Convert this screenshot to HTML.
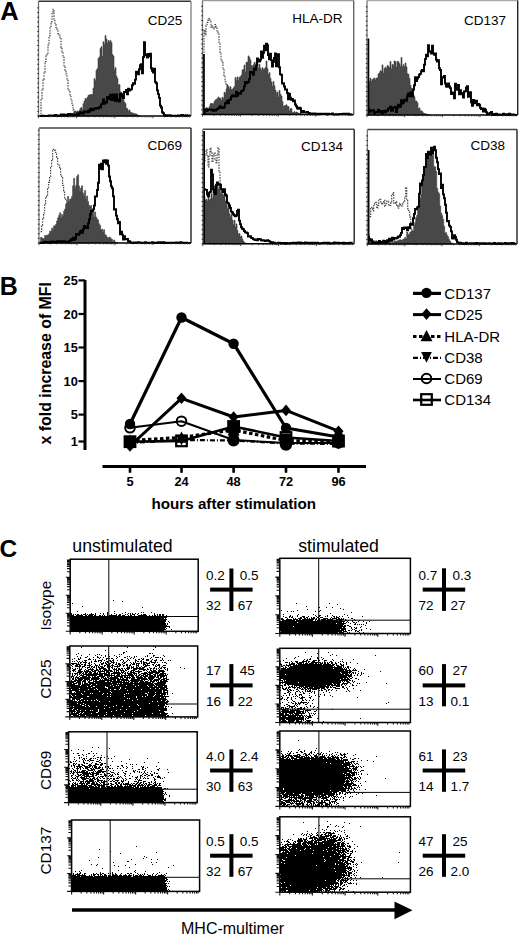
<!DOCTYPE html>
<html><head><meta charset="utf-8"><style>
html,body{margin:0;padding:0;background:#fff;}
body{width:520px;height:934px;overflow:hidden;}
svg{display:block;font-family:"Liberation Sans", sans-serif;}
</style></head><body>
<svg width="520" height="934" viewBox="0 0 520 934" shape-rendering="auto">
<path d="M66 116H67V115.6H68V115.4H69V114.2H70V113.3H71V113.6H72V113.6H73V113.7H74V111.4H75V110.9H76V112H77V111.1H78V111.5H79V110.3H80V108.3H81V107.4H82V109.5H83V103.7H84V101.1H85V98.6H86V99H87V97.3H88V95.3H89V94.9H90V94.6H91V94.5H92V94.4H93V88H94V78.6H95V80.6H96V70.2H97V68.5H98V58.3H99V57H100V48.6H101V46.8H102V56.3H103V41.8H104V44.5H105V35.5H106V39H107V43.1H108V40.6H109V41.9H110V40.4H111V42.6H112V54.5H113V56H114V70H115V67.6H116V76.1H117V78.4H118V84.7H119V84.6H120V91.8H121V92.5H122V98.4H123V100.1H124V102.1H125V103.5H126V108.2H127V108.8H128V111.2H129V110H130V112H131V112.7H132V112.9H133V113.3H134V113.8H135V113.8H136V114.1H137V114.9H138V115.6H139V116H140V116V116H66Z" fill="#484848" stroke="#3a3a3a" stroke-width="0.6"/>
<path d="M40 116H41V98.7H42V88.9H43V79.4H44V72.2H45V61.6H46V55.9H47V54.4H48V45.1H49V35.9H50V27.9H51V21.9H52V12H53V9.2H54V20.5H55V24H56V27.6H57V29.4H58V33.6H59V35H60V37.6H61V47.6H62V51.9H63V57.2H64V66.5H65V70.2H66V74H67V80.3H68V88.9H69V90.5H70V96.2H71V100.7H72V105.3H73V109.9H74V113.9H75V114.9H76V116" fill="none" stroke="#4a4a4a" stroke-width="1.15" stroke-dasharray="1.6 1.1"/>
<path d="M40 116H41V116H42V115.8H43V115.6H44V115.9H45V116H46V115.9H47V115.9H48V115.7H49V115.5H50V115.4H51V115.5H52V115.4H53V115.9H54V115.7H55V115H56V115.7H57V115.4H58V115.8H59V116H60V115.5H61V114.4H62V115.5H63V114.4H64V115.9H65V114.8H66V115H67V116H68V114H69V115H70V114.3H71V114.6H72V114.4H73V115.2H74V114.6H75V114.9H76V115.1H77V113.4H78V115.2H79V113.6H80V112.1H81V112.6H82V113.6H83V113.5H84V111.5H85V111.9H86V111.8H87V112.3H88V110.7H89V111.7H90V109H91V108.8H92V110.2H93V109.9H94V108.4H95V108.9H96V108H97V108.4H98V108.6H99V107.2H100V107.2H101V104.4H102V103.4H103V99.4H104V103.7H105V102.3H106V102.6H107V97H108V99.1H109V98.2H110V94.8H111V100H112V100H113V94.4H114V98.3H115V101.1H116V94.5H117V99.5H118V100.8H119V101.5H120V93.9H121V94.1H122V96.5H123V98.3H124V92H125V92.1H126V89.9H127V94.3H128V88.7H129V90.5H130V89.5H131V89.4H132V85.3H133V83.1H134V83.7H135V79.6H136V71.6H137V71.6H138V74.3H139V69.3H140V65.1H141V64.3H142V73.2H143V57.1H144V42.1H145V54.2H146V55.4H147V57.5H148V54H149V56.3H150V53.8H151V68.2H152V70.9H153V72.5H154V68.7H155V81.9H156V83.2H157V90.4H158V94.1H159V97.9H160V105.6H161V107.5H162V112.3H163V113.2H164V115H165V116H166V115.7H167V115.3H168V115.2H169V115.3H170V115.5H171V115.8H172V115.6H173V115.8H174V115.8H175V115.6H176V116H177V115.8H178V115.5H179V115.5H180V115.5H181V115.3H182V115H183V115.6H184V115.4H185V115.8H186V115.3H187V115.6H188V115.6H189V115.4H190V115.6" fill="none" stroke="#000" stroke-width="1.9" stroke-linejoin="miter"/>
<path d="M38.5 1.3H191" fill="none" stroke="#333" stroke-width="1.4"/>
<path d="M191 1.3V116" fill="none" stroke="#888" stroke-width="1.4"/>
<path d="M38.5 1.3V116" fill="none" stroke="#777" stroke-width="1.3"/>
<path d="M37.3 116h1.6M37.3 111.3h1.6M37.3 106.6h1.6M37.3 101.9h1.6M37.3 97.2h1.6M37.3 92.5h1.6M37.3 87.8h1.6M37.3 83.1h1.6M37.3 78.4h1.6M37.3 73.7h1.6M37.3 69h1.6M37.3 64.3h1.6M37.3 59.6h1.6M37.3 54.9h1.6M37.3 50.2h1.6M37.3 45.5h1.6M37.3 40.8h1.6M37.3 36.1h1.6M37.3 31.4h1.6M37.3 26.7h1.6M37.3 22h1.6M37.3 17.3h1.6M37.3 12.6h1.6M37.3 7.9h1.6" stroke="#222" stroke-width="1"/>
<path d="M38.5 116H191" stroke="#000" stroke-width="1.6"/>
<path d="M38.5 116v2.2M50 116v1.4M56.7 116v1.4M61.5 116v1.4M65.1 116v1.4M68.2 116v1.4M70.7 116v1.4M72.9 116v1.4M74.9 116v1.4M76.6 116v2.2M88.1 116v1.4M94.8 116v1.4M99.6 116v1.4M103.3 116v1.4M106.3 116v1.4M108.8 116v1.4M111.1 116v1.4M113 116v1.4M114.8 116v2.2M126.2 116v1.4M132.9 116v1.4M137.7 116v1.4M141.4 116v1.4M144.4 116v1.4M147 116v1.4M149.2 116v1.4M151.1 116v1.4M152.9 116v2.2M164.4 116v1.4M171.1 116v1.4M175.8 116v1.4M179.5 116v1.4M182.5 116v1.4M185.1 116v1.4M187.3 116v1.4M189.3 116v1.4" stroke="#333" stroke-width="0.9"/>
<text x="147.8" y="24.5" font-size="13.5" text-anchor="start" fill="#000">CD25</text>
<path d="M203 111.6H204V111.4H205V108.6H206V107.6H207V108.1H208V109H209V106.6H210V103.8H211V103.4H212V103.4H213V103.9H214V101.5H215V99.9H216V99.2H217V98.8H218V97H219V98.1H220V98.3H221V100.5H222V97.2H223V98.8H224V92.3H225V93.3H226V89.2H227V84.8H228V86.5H229V89H230V86.7H231V89.7H232V89.3H233V88H234V86.4H235V77.6H236V80.4H237V76.9H238V80.3H239V77.2H240V76.7H241V75.1H242V69.9H243V69.5H244V65.1H245V71.8H246V62.3H247V62H248V55.9H249V57.4H250V60.1H251V65.8H252V66.1H253V64.8H254V62.3H255V70.1H256V61.6H257V63.1H258V68.1H259V64.3H260V68.2H261V70.5H262V67.7H263V69.3H264V68.9H265V67.5H266V61H267V68.4H268V74.4H269V72.7H270V78.3H271V81.9H272V86.3H273V81.6H274V85.8H275V90.1H276V93.2H277V92H278V97.1H279V90.4H280V94.2H281V96H282V101.4H283V106.4H284V105.7H285V105.6H286V104.8H287V106.3H288V106.5H289V111.1H290V108.6H291V108.7H292V112.5H293V112.5H294V111.6H295V112.7H296V112H297V112.5H298V113.3H299V113.5H300V113.3H301V114.3H302V114.1H303V114.1H304V114.1H305V114.5V114.5H203Z" fill="#484848" stroke="#3a3a3a" stroke-width="0.6"/>
<path d="M203 114.1H204V29.9H205V34.8H206V25.7H207V22.3H208V20.1H209V18.4H210V21.5H211V27.3H212V25.7H213V28.9H214V27.3H215V24.5H216V27.7H217V31.9H218V32.8H219V43.5H220V53.5H221V60.6H222V62.6H223V68.6H224V75.7H225V81.7H226V85.1H227V93.7H228V95.7H229V101.7H230V104.8H231V107.8H232V110.5H233V114" fill="none" stroke="#4a4a4a" stroke-width="1.15" stroke-dasharray="1.6 1.1"/>
<path d="M204 113.1H205V109.8H206V111H207V110.3H208V109.5H209V109.6H210V109.5H211V109.8H212V110.2H213V110.7H214V109.6H215V110.5H216V109.6H217V109H218V108.4H219V107.2H220V106.2H221V107.9H222V107.6H223V108.1H224V106.9H225V103.2H226V102.7H227V100.7H228V103.2H229V99.9H230V99.5H231V96.7H232V95.2H233V95.8H234V96.1H235V96.6H236V91.8H237V95.7H238V92.9H239V93.5H240V93.7H241V91.2H242V91H243V89.9H244V86.3H245V82H246V83.4H247V82H248V82.2H249V79.2H250V72H251V72.9H252V72.3H253V74.7H254V68.8H255V69.9H256V65.4H257V58.5H258V61.3H259V61.5H260V59.7H261V51.5H262V57.7H263V52.9H264V45.7H265V50.4H266V43.6H267V45.1H268V55.1H269V59.2H270V53.6H271V60.1H272V66.5H273V61.7H274V57.9H275V53.5H276V66.2H277V55.7H278V54.3H279V67.3H280V74.4H281V74.8H282V83.6H283V83.3H284V86.5H285V89.5H286V89.4H287V93H288V99.4H289V93.8H290V97.7H291V99.8H292V99H293V101.3H294V100.4H295V104.5H296V106.3H297V108.4H298V108.8H299V107.8H300V108.2H301V112.3H302V112.2H303V111H304V112.3H305V112.1H306V112.5H307V112H308V112.9H309V113.1H310V113.4H311V114.1H312V113.9H313V113.5H314V113.4H315V113.8H316V114.4H317V114.3H318V113.8H319V114.4H320V114.1H321V113.8H322V114.1H323V114H324V113.6H325V113.8H326V114H327V114.5H328V113.6H329V114.1H330V114H331V114H332V113.5H333V114.4H334V114.5H335V114.5H336V114.2H337V114.5H338V114.2H339V114.3H340V113.9H341V114.1H342V113.9H343V113.6H344V113.8H345V113.6H346V113.6H347V113.8H348V113.8H349V114.5H350V114.5H351V114.4H352V114.3" fill="none" stroke="#000" stroke-width="1.9" stroke-linejoin="miter"/>
<path d="M203.8 54V114.5" stroke="#000" stroke-width="2"/>
<path d="M202.5 0.5H353.7" fill="none" stroke="#999" stroke-width="1.4"/>
<path d="M353.7 0.5V114.5" fill="none" stroke="#666" stroke-width="1.4"/>
<path d="M202.5 0.5V114.5" fill="none" stroke="#777" stroke-width="1.3"/>
<path d="M201.3 114.5h1.6M201.3 109.8h1.6M201.3 105.1h1.6M201.3 100.4h1.6M201.3 95.7h1.6M201.3 91h1.6M201.3 86.3h1.6M201.3 81.6h1.6M201.3 76.9h1.6M201.3 72.2h1.6M201.3 67.5h1.6M201.3 62.8h1.6M201.3 58.1h1.6M201.3 53.4h1.6M201.3 48.7h1.6M201.3 44h1.6M201.3 39.3h1.6M201.3 34.6h1.6M201.3 29.9h1.6M201.3 25.2h1.6M201.3 20.5h1.6M201.3 15.8h1.6M201.3 11.1h1.6M201.3 6.4h1.6" stroke="#222" stroke-width="1"/>
<path d="M202.5 114.5H353.7" stroke="#000" stroke-width="1.6"/>
<path d="M202.5 114.5v2.2M213.9 114.5v1.4M220.5 114.5v1.4M225.3 114.5v1.4M228.9 114.5v1.4M231.9 114.5v1.4M234.4 114.5v1.4M236.6 114.5v1.4M238.6 114.5v1.4M240.3 114.5v2.2M251.7 114.5v1.4M258.3 114.5v1.4M263.1 114.5v1.4M266.7 114.5v1.4M269.7 114.5v1.4M272.2 114.5v1.4M274.4 114.5v1.4M276.4 114.5v1.4M278.1 114.5v2.2M289.5 114.5v1.4M296.1 114.5v1.4M300.9 114.5v1.4M304.5 114.5v1.4M307.5 114.5v1.4M310 114.5v1.4M312.2 114.5v1.4M314.2 114.5v1.4M315.9 114.5v2.2M327.3 114.5v1.4M333.9 114.5v1.4M338.7 114.5v1.4M342.3 114.5v1.4M345.3 114.5v1.4M347.8 114.5v1.4M350 114.5v1.4M352 114.5v1.4" stroke="#333" stroke-width="0.9"/>
<text x="292.2" y="22.5" font-size="13.5" text-anchor="start" fill="#000">HLA-DR</text>
<path d="M368 82.9H369V81.3H370V78.2H371V81.3H372V79.4H373V78.9H374V77.9H375V80H376V78.1H377V77.9H378V74H379V72.8H380V70.7H381V71.5H382V64.9H383V73.1H384V68.6H385V67.2H386V68.6H387V65.4H388V66.4H389V67.2H390V61.4H391V68.7H392V64.5H393V65.2H394V60.9H395V61.6H396V66.9H397V61.5H398V61.7H399V63.7H400V66.2H401V57.5H402V67.1H403V64.7H404V66.8H405V63H406V66.8H407V73.8H408V74.3H409V78.4H410V85.3H411V88.1H412V93.2H413V95.1H414V96.7H415V100.9H416V101H417V102.9H418V108.8H419V107.9H420V111H421V110.8H422V111.7H423V113.1H424V113.5H425V113.7H426V114.1H427V114.3H428V114.8H429V115H430V115V115H368Z" fill="#484848" stroke="#3a3a3a" stroke-width="0.6"/>
<path d="M368 109H369V110.2H370V111.8H371V110.6H372V110.3H373V110.1H374V113H375V112.3H376V112.1H377V111.7H378V109.8H379V112.4H380V111H381V111.8H382V113.5H383V111H384V111.1H385V112.3H386V110.5H387V110.8H388V108.5H389V108.4H390V106.8H391V110.7H392V110.8H393V107.4H394V107.6H395V106.7H396V112H397V108H398V104.8H399V105.9H400V106.7H401V100.2H402V103.5H403V102.5H404V99.7H405V100.6H406V100.7H407V96H408V93.5H409V96.4H410V92.6H411V92.2H412V96.4H413V89.5H414V85.2H415V77.2H416V81.1H417V78.5H418V77.1H419V74.6H420V73.9H421V71.1H422V70H423V71.4H424V64.7H425V59H426V54.6H427V56.2H428V45.1H429V51.1H430V51.7H431V53.5H432V45.8H433V53.4H434V54.7H435V53.4H436V59.7H437V61.5H438V60.3H439V68.3H440V70H441V84.3H442V77.2H443V77.6H444V76H445V83.5H446V86.5H447V86.9H448V83.5H449V86.5H450V88.1H451V94H452V92.4H453V93.9H454V98.2H455V83.7H456V88.7H457V89.8H458V85H459V94.2H460V90.1H461V92.9H462V94.2H463V97.6H464V91.5H465V91.3H466V87.6H467V86.1H468V96.7H469V92.4H470V92.3H471V102.2H472V105.9H473V99.9H474V103.2H475V101.1H476V100.7H477V105.4H478V104H479V104.8H480V107.8H481V109H482V108.4H483V111.5H484V108.8H485V109.8H486V112.1H487V114.4H488V114.4H489V113.4H490V112.9H491V112H492V114.9H493V114H494V115H495V114.5H496V113.8H497V115H498V114.7H499V114.4H500V114.7H501V114.6H502V114.8H503V113.8H504V114.6H505V114.8H506V114.1H507V115H508V114.5H509V113.7H510V115H511V114.5H512V114.6H513V114.5H514V115H515V114.6H516V114.3" fill="none" stroke="#000" stroke-width="1.9" stroke-linejoin="miter"/>
<path d="M368.3 38.5V115" stroke="#000" stroke-width="2"/>
<path d="M367 0.5H517.7" fill="none" stroke="#aaa" stroke-width="1.4"/>
<path d="M517.7 0.5V115" fill="none" stroke="#222" stroke-width="1.4"/>
<path d="M367 0.5V115" fill="none" stroke="#777" stroke-width="1.3"/>
<path d="M365.8 115h1.6M365.8 110.3h1.6M365.8 105.6h1.6M365.8 100.9h1.6M365.8 96.2h1.6M365.8 91.5h1.6M365.8 86.8h1.6M365.8 82.1h1.6M365.8 77.4h1.6M365.8 72.7h1.6M365.8 68h1.6M365.8 63.3h1.6M365.8 58.6h1.6M365.8 53.9h1.6M365.8 49.2h1.6M365.8 44.5h1.6M365.8 39.8h1.6M365.8 35.1h1.6M365.8 30.4h1.6M365.8 25.7h1.6M365.8 21h1.6M365.8 16.3h1.6M365.8 11.6h1.6M365.8 6.9h1.6" stroke="#222" stroke-width="1"/>
<path d="M367 115H517.7" stroke="#000" stroke-width="1.6"/>
<path d="M367 115v2.2M378.3 115v1.4M385 115v1.4M389.7 115v1.4M393.3 115v1.4M396.3 115v1.4M398.8 115v1.4M401 115v1.4M403 115v1.4M404.7 115v2.2M416 115v1.4M422.7 115v1.4M427.4 115v1.4M431 115v1.4M434 115v1.4M436.5 115v1.4M438.7 115v1.4M440.6 115v1.4M442.4 115v2.2M453.7 115v1.4M460.3 115v1.4M465 115v1.4M468.7 115v1.4M471.7 115v1.4M474.2 115v1.4M476.4 115v1.4M478.3 115v1.4M480 115v2.2M491.4 115v1.4M498 115v1.4M502.7 115v1.4M506.4 115v1.4M509.3 115v1.4M511.9 115v1.4M514 115v1.4M516 115v1.4" stroke="#333" stroke-width="0.9"/>
<text x="464" y="25.4" font-size="13.5" text-anchor="start" fill="#000">CD137</text>
<path d="M40.6 237.3H41.6V238.1H42.6V238.5H43.6V239.1H44.6V235.4H45.6V235.8H46.6V235.3H47.6V234.9H48.6V233.9H49.6V231H50.6V232H51.6V228.1H52.6V230H53.6V225.8H54.6V225.9H55.6V224.2H56.6V221H57.6V217.9H58.6V215.4H59.6V212.8H60.6V218H61.6V214.4H62.6V216.3H63.6V211.2H64.6V209H65.6V204.1H66.6V202.8H67.6V196.5H68.6V201.8H69.6V199.5H70.6V198.8H71.6V196.4H72.6V185.8H73.6V178.4H74.6V188.2H75.6V185.4H76.6V176.5H77.6V174.8H78.6V186.1H79.6V191.2H80.6V188H81.6V185.8H82.6V192.9H83.6V195.5H84.6V190.4H85.6V199H86.6V196H87.6V201.4H88.6V205.3H89.6V206.8H90.6V205.5H91.6V213H92.6V210H93.6V216.7H94.6V211.9H95.6V217.1H96.6V218.8H97.6V220.1H98.6V223.8H99.6V225.5H100.6V230.1H101.6V229.1H102.6V231.8H103.6V229.8H104.6V234.5H105.6V235.4H106.6V237.3H107.6V238.5H108.6V237.1H109.6V237.4H110.6V238.7H111.6V239.5H112.6V241.7H113.6V240H114.6V241.7H115.6V242.5H116.6V242.4H117.6V242.6V243H40.6Z" fill="#484848" stroke="#3a3a3a" stroke-width="0.6"/>
<path d="M40.6 231.6H41.6V225.1H42.6V218.7H43.6V213H44.6V205H45.6V196.9H46.6V194.8H47.6V188.9H48.6V182.4H49.6V176.3H50.6V167.5H51.6V159.8H52.6V149.2H53.6V150.1H54.6V150.4H55.6V152.5H56.6V158.4H57.6V164H58.6V165H59.6V168.4H60.6V174.7H61.6V177.5H62.6V185.3H63.6V192.1H64.6V198H65.6V200.4H66.6V205.2H67.6V209.5H68.6V214.8H69.6V217.3H70.6V223H71.6V225H72.6V228.1H73.6V233.1H74.6V236.2H75.6V240.1H76.6V241.8H77.6V242.4" fill="none" stroke="#4a4a4a" stroke-width="1.15" stroke-dasharray="1.6 1.1"/>
<path d="M40 243H41V242.6H42V242.7H43V242.8H44V242H45V241.7H46V241.9H47V242.4H48V242.7H49V242.3H50V241.6H51V242.8H52V241.4H53V241.9H54V241.8H55V242.2H56V242.6H57V241.2H58V241.8H59V242.1H60V241.3H61V241.8H62V241.9H63V241.1H64V241.1H65V241.7H66V241.6H67V241.7H68V242.6H69V241.3H70V240.5H71V238.9H72V240H73V237.7H74V239.8H75V238.8H76V234H77V234.2H78V234.7H79V233.5H80V231.3H81V230.5H82V232.9H83V229.3H84V225.9H85V226.8H86V227.9H87V228.1H88V223.1H89V219.2H90V214.3H91V211.3H92V210.7H93V209.4H94V205.5H95V196.5H96V196.4H97V190H98V182.7H99V164.6H100V168.7H101V163.6H102V169.3H103V160.5H104V162.3H105V160.1H106V163.8H107V160.4H108V165.6H109V176.5H110V181.2H111V186.4H112V188.4H113V196.2H114V209.6H115V209.1H116V215.6H117V219.3H118V223.2H119V221.9H120V234.2H121V231.7H122V234.6H123V239.5H124V236.1H125V239.3H126V239.4H127V239H128V241.5H129V241.2H130V242.1H131V242.6H132V242.9H133V243H134V242.4H135V242.9H136V242.5H137V242.6H138V242.2H139V242.4H140V242.6H141V242.9H142V242.8H143V242.9H144V242.9H145V242.3H146V243H147V242.6H148V242.9H149V242.6H150V242.8H151V242.9H152V242.1H153V243H154V242.7H155V243H156V242.8H157V242.7H158V242.3H159V242.6H160V242.1H161V242.7H162V243H163V242.2H164V242.5H165V242.6H166V243H167V243H168V242.7H169V242.7H170V242.7H171V242.6H172V242.6H173V242.6H174V242.7H175V242.7H176V242.5H177V242.9H178V242.7H179V242.8H180V242.3H181V242.5H182V242.7H183V242.8H184V242.7H185V243H186V242.6H187V243H188V243H189V242.9H190V242.8" fill="none" stroke="#000" stroke-width="1.9" stroke-linejoin="miter"/>
<path d="M39 128H191" fill="none" stroke="#444" stroke-width="1.4"/>
<path d="M191 128V243" fill="none" stroke="#222" stroke-width="1.4"/>
<path d="M39 128V243" fill="none" stroke="#777" stroke-width="1.3"/>
<path d="M37.8 243h1.6M37.8 238.3h1.6M37.8 233.6h1.6M37.8 228.9h1.6M37.8 224.2h1.6M37.8 219.5h1.6M37.8 214.8h1.6M37.8 210.1h1.6M37.8 205.4h1.6M37.8 200.7h1.6M37.8 196h1.6M37.8 191.3h1.6M37.8 186.6h1.6M37.8 181.9h1.6M37.8 177.2h1.6M37.8 172.5h1.6M37.8 167.8h1.6M37.8 163.1h1.6M37.8 158.4h1.6M37.8 153.7h1.6M37.8 149h1.6M37.8 144.3h1.6M37.8 139.6h1.6M37.8 134.9h1.6M37.8 130.2h1.6" stroke="#222" stroke-width="1"/>
<path d="M39 243H191" stroke="#000" stroke-width="1.6"/>
<path d="M39 243v2.2M50.4 243v1.4M57.1 243v1.4M61.9 243v1.4M65.6 243v1.4M68.6 243v1.4M71.1 243v1.4M73.3 243v1.4M75.3 243v1.4M77 243v2.2M88.4 243v1.4M95.1 243v1.4M99.9 243v1.4M103.6 243v1.4M106.6 243v1.4M109.1 243v1.4M111.3 243v1.4M113.3 243v1.4M115 243v2.2M126.4 243v1.4M133.1 243v1.4M137.9 243v1.4M141.6 243v1.4M144.6 243v1.4M147.1 243v1.4M149.3 243v1.4M151.3 243v1.4M153 243v2.2M164.4 243v1.4M171.1 243v1.4M175.9 243v1.4M179.6 243v1.4M182.6 243v1.4M185.1 243v1.4M187.3 243v1.4M189.3 243v1.4" stroke="#333" stroke-width="0.9"/>
<text x="147.6" y="149.5" font-size="13.5" text-anchor="start" fill="#000">CD69</text>
<path d="M204 196.4H205V199.9H206V199.3H207V201.1H208V196.7H209V200.1H210V199H211V193.8H212V198.5H213V190.8H214V185.9H215V187.2H216V184.9H217V184.9H218V188.9H219V186.5H220V194H221V188H222V194.1H223V195.2H224V192.4H225V201.1H226V204.6H227V208.8H228V204.9H229V213.8H230V216.9H231V214.2H232V220H233V224.7H234V220.2H235V227.1H236V223.9H237V230.4H238V234.5H239V233.5H240V236.8H241V236H242V239.3H243V241.1H244V242.8H245V242.9H246V243.8V243.8H204Z" fill="#484848" stroke="#3a3a3a" stroke-width="0.6"/>
<path d="M204 160.7H205V154.9H206V149.6H207V155.2H208V166.9H209V155.2H210V148.1H211V152.9H212V162.1H213V155.9H214V152.8H215V159.2H216V162.6H217V155.1H218V147.8H219V171.2H220V186.9H221V193.4H222V200.1H223V206.3H224V210.7H225V214.5H226V222H227V223H228V230.2H229V231.5H230V235.8H231V239H232V241.9H233V243.8" fill="none" stroke="#4a4a4a" stroke-width="1.15" stroke-dasharray="1.6 1.1"/>
<path d="M204 189.3H205V189.9H206V189.9H207V194.6H208V196.4H209V192.6H210V191.9H211V169.6H212V174.5H213V189.5H214V192.4H215V194H216V184.8H217V182.4H218V184.9H219V184.1H220V184.6H221V189.1H222V189.1H223V192.1H224V189.3H225V194.5H226V195.5H227V202.7H228V203.4H229V205.4H230V208H231V211.6H232V212.5H233V214.3H234V215.3H235V216.3H236V215.5H237V211H238V209.8H239V220.6H240V224.1H241V227.2H242V228.8H243V229.3H244V231H245V232.4H246V232.5H247V233.1H248V236.5H249V236.5H250V236.2H251V237.9H252V238.1H253V239.1H254V239.6H255V240.1H256V239.4H257V240.2H258V239H259V239.1H260V239.3H261V240.3H262V240.6H263V240.2H264V240.6H265V241.1H266V240.7H267V240.2H268V240.7H269V241.2H270V241.9H271V242.2H272V242.1H273V242.8H274V242.7H275V243.3H276V243.2H277V243.6H278V242.8H279V242.8H280V243.1H281V243.6H282V242.9H283V242.9H284V243.3H285V243.7H286V242.9H287V243.3H288V243.5H289V243.3H290V243H291V243.4H292V242.9H293V242.6H294V242.8H295V243.2H296V242.9H297V242.8H298V242.4H299V242.5H300V243.4H301V242.8H302V242.9H303V242.9H304V243.3H305V242.4H306V242.9H307V243.1H308V242.7H309V242.9H310V243.3H311V242.6H312V242.7H313V243.2H314V242.6H315V243.1H316V242.7H317V242.7H318V243.1H319V243.5H320V243.2H321V243.1H322V242.9H323V243H324V242.8H325V242.8H326V242.9H327V243.1H328V242.7H329V243.3H330V243.5H331V243.2H332V243.4H333V243H334V242.5H335V242.8H336V242.8H337V242.6H338V242.6H339V243.1H340V242.9H341V243.1H342V243.1H343V242.6H344V243.5H345V243H346V243.3H347V243H348V243.2H349V242.9H350V242.6H351V242.6H352V242.8" fill="none" stroke="#000" stroke-width="1.9" stroke-linejoin="miter"/>
<path d="M204 131V243.8" stroke="#000" stroke-width="2"/>
<path d="M202.8 129.3H354.2" fill="none" stroke="#444" stroke-width="1.4"/>
<path d="M354.2 129.3V243.8" fill="none" stroke="#222" stroke-width="1.4"/>
<path d="M202.8 129.3V243.8" fill="none" stroke="#777" stroke-width="1.3"/>
<path d="M201.60000000000002 243.8h1.6M201.60000000000002 239.1h1.6M201.60000000000002 234.4h1.6M201.60000000000002 229.7h1.6M201.60000000000002 225h1.6M201.60000000000002 220.3h1.6M201.60000000000002 215.6h1.6M201.60000000000002 210.9h1.6M201.60000000000002 206.2h1.6M201.60000000000002 201.5h1.6M201.60000000000002 196.8h1.6M201.60000000000002 192.1h1.6M201.60000000000002 187.4h1.6M201.60000000000002 182.7h1.6M201.60000000000002 178h1.6M201.60000000000002 173.3h1.6M201.60000000000002 168.6h1.6M201.60000000000002 163.9h1.6M201.60000000000002 159.2h1.6M201.60000000000002 154.5h1.6M201.60000000000002 149.8h1.6M201.60000000000002 145.1h1.6M201.60000000000002 140.4h1.6M201.60000000000002 135.7h1.6" stroke="#222" stroke-width="1"/>
<path d="M202.8 243.8H354.2" stroke="#000" stroke-width="1.6"/>
<path d="M202.8 243.8v2.2M214.2 243.8v1.4M220.9 243.8v1.4M225.6 243.8v1.4M229.3 243.8v1.4M232.3 243.8v1.4M234.8 243.8v1.4M237 243.8v1.4M238.9 243.8v1.4M240.7 243.8v2.2M252 243.8v1.4M258.7 243.8v1.4M263.4 243.8v1.4M267.1 243.8v1.4M270.1 243.8v1.4M272.6 243.8v1.4M274.8 243.8v1.4M276.8 243.8v1.4M278.5 243.8v2.2M289.9 243.8v1.4M296.6 243.8v1.4M301.3 243.8v1.4M305 243.8v1.4M308 243.8v1.4M310.5 243.8v1.4M312.7 243.8v1.4M314.6 243.8v1.4M316.4 243.8v2.2M327.7 243.8v1.4M334.4 243.8v1.4M339.1 243.8v1.4M342.8 243.8v1.4M345.8 243.8v1.4M348.3 243.8v1.4M350.5 243.8v1.4M352.5 243.8v1.4" stroke="#333" stroke-width="0.9"/>
<text x="301" y="151.1" font-size="13.5" text-anchor="start" fill="#000">CD134</text>
<path d="M369.7 240H370.7V241.1H371.7V241.4H372.7V240.6H373.7V240.8H374.7V242.3H375.7V240.7H376.7V241.5H377.7V241H378.7V241.9H379.7V242.1H380.7V242.5H381.7V242.6H382.7V241.2H383.7V241.5H384.7V241.5H385.7V241.7H386.7V242.2H387.7V242.1H388.7V241.7H389.7V241.9H390.7V243.9H391.7V241.6H392.7V243.8H393.7V241.5H394.7V241.1H395.7V241.2H396.7V240.9H397.7V240.7H398.7V239.9H399.7V239.8H400.7V240.1H401.7V240.3H402.7V239.2H403.7V239.1H404.7V237.4H405.7V239.1H406.7V232.1H407.7V234.5H408.7V234.2H409.7V232.3H410.7V231.8H411.7V230.5H412.7V231.1H413.7V225.5H414.7V222.4H415.7V217.4H416.7V215.3H417.7V209.2H418.7V206.3H419.7V198.6H420.7V194.4H421.7V185.5H422.7V176.5H423.7V172.4H424.7V166H425.7V167.5H426.7V158.4H427.7V156.8H428.7V157.6H429.7V153.8H430.7V151.8H431.7V155.2H432.7V148.9H433.7V166.5H434.7V166.8H435.7V171.3H436.7V188.2H437.7V191.9H438.7V193.7H439.7V206H440.7V213.1H441.7V215.4H442.7V219.3H443.7V226.2H444.7V232.7H445.7V232.7H446.7V235.3H447.7V236.8H448.7V239.5H449.7V241.3H450.7V243H451.7V243.2H452.7V243.9V244H369.7Z" fill="#484848" stroke="#3a3a3a" stroke-width="0.6"/>
<path d="M369.7 216.6H370.7V207.2H371.7V208.4H372.7V210.8H373.7V205.4H374.7V203.3H375.7V202.4H376.7V208.2H377.7V205.3H378.7V200.2H379.7V199.4H380.7V203.4H381.7V204.4H382.7V201.9H383.7V200.4H384.7V206.5H385.7V203.5H386.7V201.1H387.7V201.3H388.7V205.6H389.7V205.4H390.7V201.8H391.7V195.4H392.7V192.6H393.7V203.1H394.7V203.5H395.7V201.6H396.7V205.4H397.7V208.2H398.7V205.9H399.7V203.4H400.7V205.8H401.7V206H402.7V203.5H403.7V202.1H404.7V197.8H405.7V187.3H406.7V200H407.7V208.8H408.7V212H409.7V216.9H410.7V227.3H411.7V240.9" fill="none" stroke="#4a4a4a" stroke-width="1.15" stroke-dasharray="1.6 1.1"/>
<path d="M368 236.8H369V238.9H370V240.4H371V239.4H372V242.1H373V242.2H374V242.7H375V242.6H376V243.1H377V242.6H378V242.5H379V241H380V242H381V243.1H382V241.9H383V240.7H384V240.9H385V242.3H386V242.7H387V240.1H388V241.3H389V238.8H390V239.9H391V240.9H392V237.8H393V239.6H394V237.9H395V238.5H396V238.4H397V237.7H398V236.4H399V236.8H400V235.1H401V232.9H402V228H403V229.1H404V227.4H405V227.4H406V228H407V230.4H408V227.3H409V228.2H410V224.3H411V223.6H412V224.9H413V218.3H414V213.9H415V208.9H416V209.3H417V207.5H418V206.7H419V193.6H420V183.4H421V185.4H422V180.4H423V174.9H424V167H425V167H426V153.9H427V158H428V151.7H429V154.2H430V154.8H431V147.7H432V153.3H433V150H434V146.6H435V150.3H436V157.8H437V162.2H438V169.1H439V174.1H440V173.5H441V188H442V184.6H443V194.4H444V198.3H445V204.8H446V212.8H447V221.3H448V220.9H449V225.6H450V226.9H451V231.4H452V238.4H453V238.5H454V235.1H455V236.9H456V239.7H457V242.1H458V242.8H459V243.3H460V242.6H461V243.2H462V243.8H463V243.1H464V244H465V244H466V242.8H467V243.9H468V243.4H469V243.6H470V243.2H471V243.4H472V243.6H473V243.1H474V243.2H475V243.8H476V242.9H477V243.6H478V243.6H479V243.2H480V243.5H481V243.5H482V243.3H483V243.3H484V243.7H485V243.2H486V243.6H487V243.5H488V243.6H489V243.3H490V243.5H491V243.9H492V243.4H493V243.9H494V243H495V243.5H496V244H497V243.6H498V243.1H499V243.8H500V243.3H501V244H502V243.5H503V243.6H504V243.4H505V243H506V243.6H507V243.8H508V243.3H509V243.6H510V243.1H511V243.4H512V243H513V243.2H514V243.6H515V243.8" fill="none" stroke="#000" stroke-width="1.9" stroke-linejoin="miter"/>
<path d="M368.5 150V244" stroke="#000" stroke-width="2"/>
<path d="M367.4 129.5H517" fill="none" stroke="#444" stroke-width="1.4"/>
<path d="M517 129.5V244" fill="none" stroke="#222" stroke-width="1.4"/>
<path d="M367.4 129.5V244" fill="none" stroke="#777" stroke-width="1.3"/>
<path d="M366.2 244h1.6M366.2 239.3h1.6M366.2 234.6h1.6M366.2 229.9h1.6M366.2 225.2h1.6M366.2 220.5h1.6M366.2 215.8h1.6M366.2 211.1h1.6M366.2 206.4h1.6M366.2 201.7h1.6M366.2 197h1.6M366.2 192.3h1.6M366.2 187.6h1.6M366.2 182.9h1.6M366.2 178.2h1.6M366.2 173.5h1.6M366.2 168.8h1.6M366.2 164.1h1.6M366.2 159.4h1.6M366.2 154.7h1.6M366.2 150h1.6M366.2 145.3h1.6M366.2 140.6h1.6M366.2 135.9h1.6" stroke="#222" stroke-width="1"/>
<path d="M367.4 244H517" stroke="#000" stroke-width="1.6"/>
<path d="M367.4 244v2.2M378.7 244v1.4M385.2 244v1.4M389.9 244v1.4M393.5 244v1.4M396.5 244v1.4M399 244v1.4M401.2 244v1.4M403.1 244v1.4M404.8 244v2.2M416.1 244v1.4M422.6 244v1.4M427.3 244v1.4M430.9 244v1.4M433.9 244v1.4M436.4 244v1.4M438.6 244v1.4M440.5 244v1.4M442.2 244v2.2M453.5 244v1.4M460 244v1.4M464.7 244v1.4M468.3 244v1.4M471.3 244v1.4M473.8 244v1.4M476 244v1.4M477.9 244v1.4M479.6 244v2.2M490.9 244v1.4M497.4 244v1.4M502.1 244v1.4M505.7 244v1.4M508.7 244v1.4M511.2 244v1.4M513.4 244v1.4M515.3 244v1.4" stroke="#333" stroke-width="0.9"/>
<text x="470.5" y="149.5" font-size="13.5" text-anchor="start" fill="#000">CD38</text>
<text x="0.2" y="20.3" font-size="25.5" font-weight="bold" text-anchor="start" fill="#000">A</text>
<text x="-0.3" y="294.8" font-size="25" font-weight="bold" text-anchor="start" fill="#000">B</text>
<path d="M85 280V450" stroke="#000" stroke-width="3"/>
<path d="M78.5 280.4H85" stroke="#000" stroke-width="2.2"/>
<text x="77.8" y="284.95" font-size="12.8" font-weight="bold" text-anchor="end" fill="#000">25</text>
<path d="M78.5 314H85" stroke="#000" stroke-width="2.2"/>
<text x="77.8" y="318.5" font-size="12.8" font-weight="bold" text-anchor="end" fill="#000">20</text>
<path d="M78.5 347.5H85" stroke="#000" stroke-width="2.2"/>
<text x="77.8" y="352.04999999999995" font-size="12.8" font-weight="bold" text-anchor="end" fill="#000">15</text>
<path d="M78.5 381.1H85" stroke="#000" stroke-width="2.2"/>
<text x="77.8" y="385.6" font-size="12.8" font-weight="bold" text-anchor="end" fill="#000">10</text>
<path d="M78.5 414.6H85" stroke="#000" stroke-width="2.2"/>
<text x="77.8" y="419.15" font-size="12.8" font-weight="bold" text-anchor="end" fill="#000">5</text>
<path d="M78.5 441.5H85" stroke="#000" stroke-width="2.2"/>
<text x="77.8" y="445.99" font-size="12.8" font-weight="bold" text-anchor="end" fill="#000">1</text>
<text x="51.2" y="444.5" font-size="15.9" font-weight="bold" text-anchor="start" fill="#000" transform="rotate(-90 51.2 444.5)">x fold increase of MFI</text>
<path d="M102.5 466.5H366" stroke="#000" stroke-width="3"/>
<path d="M130 466V472.8" stroke="#000" stroke-width="2.6"/>
<text x="130" y="486.3" font-size="12.8" font-weight="bold" text-anchor="middle" fill="#000">5</text>
<path d="M181.5 466V472.8" stroke="#000" stroke-width="2.6"/>
<text x="181.5" y="486.3" font-size="12.8" font-weight="bold" text-anchor="middle" fill="#000">24</text>
<path d="M233.6 466V472.8" stroke="#000" stroke-width="2.6"/>
<text x="233.6" y="486.3" font-size="12.8" font-weight="bold" text-anchor="middle" fill="#000">48</text>
<path d="M286 466V472.8" stroke="#000" stroke-width="2.6"/>
<text x="286" y="486.3" font-size="12.8" font-weight="bold" text-anchor="middle" fill="#000">72</text>
<path d="M338.5 466V472.8" stroke="#000" stroke-width="2.6"/>
<text x="338.5" y="486.3" font-size="12.8" font-weight="bold" text-anchor="middle" fill="#000">96</text>
<text x="233.8" y="509.3" font-size="15.2" font-weight="bold" text-anchor="middle" fill="#000">hours after stimulation</text>
<polyline points="130,441.7 181.5,440.9 233.6,426.5 286,437.5 338.5,441" fill="none" stroke="#000" stroke-width="2.6" stroke-linejoin="round"/>
<polyline points="130,427.8 181.5,421.2 233.6,440 286,443 338.5,443" fill="none" stroke="#000" stroke-width="2.0" stroke-linejoin="round"/>
<polyline points="130,443 181.5,440 233.6,440.5 286,443.5 338.5,444" fill="none" stroke="#000" stroke-width="2.2" stroke-dasharray="5 2 1 2" stroke-linejoin="round"/>
<polyline points="130,440.5 181.5,437.5 233.6,430 286,440.5 338.5,442" fill="none" stroke="#000" stroke-width="3.2" stroke-dasharray="3.5 2.5" stroke-linejoin="round"/>
<polyline points="130,446 181.5,398.3 233.6,417 286,410.4 338.5,431.2" fill="none" stroke="#000" stroke-width="3.0" stroke-linejoin="round"/>
<polyline points="130,424 181.5,317.5 233.6,343.7 286,428 338.5,437" fill="none" stroke="#000" stroke-width="3.2" stroke-linejoin="round"/>
<rect x="124.7" y="436.4" width="10.6" height="10.6" fill="none" stroke="#000" stroke-width="2.2"/>
<rect x="176.2" y="435.6" width="10.6" height="10.6" fill="none" stroke="#000" stroke-width="2.2"/>
<rect x="228.3" y="421.2" width="10.6" height="10.6" fill="none" stroke="#000" stroke-width="2.2"/>
<rect x="280.7" y="432.2" width="10.6" height="10.6" fill="none" stroke="#000" stroke-width="2.2"/>
<rect x="333.2" y="435.7" width="10.6" height="10.6" fill="none" stroke="#000" stroke-width="2.2"/>
<circle cx="130" cy="427.8" r="4.8" fill="none" stroke="#000" stroke-width="2"/>
<circle cx="181.5" cy="421.2" r="4.8" fill="none" stroke="#000" stroke-width="2"/>
<circle cx="233.6" cy="440" r="4.8" fill="none" stroke="#000" stroke-width="2"/>
<circle cx="286" cy="443" r="4.8" fill="none" stroke="#000" stroke-width="2"/>
<circle cx="338.5" cy="443" r="4.8" fill="none" stroke="#000" stroke-width="2"/>
<path d="M130 448.5L135.4 437.8L124.6 437.8Z" fill="#000"/>
<path d="M181.5 445.5L186.9 434.8L176.1 434.8Z" fill="#000"/>
<path d="M233.6 446L239 435.3L228.2 435.3Z" fill="#000"/>
<path d="M286 449L291.4 438.3L280.6 438.3Z" fill="#000"/>
<path d="M338.5 449.5L343.9 438.8L333.1 438.8Z" fill="#000"/>
<path d="M130 434.5L136 445.7L124 445.7Z" fill="#000"/>
<path d="M181.5 431.5L187.5 442.7L175.5 442.7Z" fill="#000"/>
<path d="M233.6 424L239.6 435.2L227.6 435.2Z" fill="#000"/>
<path d="M286 434.5L292 445.7L280 445.7Z" fill="#000"/>
<path d="M338.5 436L344.5 447.2L332.5 447.2Z" fill="#000"/>
<path d="M130 440.2L135 446L130 451.8L125 446Z" fill="#000"/>
<path d="M181.5 392.5L186.5 398.3L181.5 404.1L176.5 398.3Z" fill="#000"/>
<path d="M233.6 411.2L238.6 417L233.6 422.8L228.6 417Z" fill="#000"/>
<path d="M286 404.6L291 410.4L286 416.2L281 410.4Z" fill="#000"/>
<path d="M338.5 425.4L343.5 431.2L338.5 437L333.5 431.2Z" fill="#000"/>
<circle cx="130" cy="424" r="5.2" fill="#000"/>
<circle cx="181.5" cy="317.5" r="5.2" fill="#000"/>
<circle cx="233.6" cy="343.7" r="5.2" fill="#000"/>
<circle cx="286" cy="428" r="5.2" fill="#000"/>
<circle cx="338.5" cy="437" r="5.2" fill="#000"/>
<circle cx="233.6" cy="440.6" r="6" fill="#000"/>
<circle cx="286" cy="444.5" r="6.2" fill="#000"/>
<rect x="280.5" y="433.5" width="11" height="9" fill="#000"/>
<rect x="228" y="421.5" width="11.5" height="10.5" fill="#000"/>
<rect x="124.5" y="436.5" width="11" height="10.5" fill="#000"/>
<path d="M413 293.4H441" stroke="#000" stroke-width="3.2"/>
<circle cx="426.5" cy="292.9" r="5.2" fill="#000"/>
<text x="444.3" y="298.79999999999995" font-size="15" text-anchor="start" fill="#000">CD137</text>
<path d="M413 314.6H441" stroke="#000" stroke-width="3.0"/>
<path d="M426.5 308.3L431.5 314.1L426.5 319.9L421.5 314.1Z" fill="#000"/>
<text x="444.3" y="320.0" font-size="15" text-anchor="start" fill="#000">CD25</text>
<path d="M413 336.5H441" stroke="#000" stroke-width="3.2" stroke-dasharray="3.5 2.5"/>
<path d="M426.5 330L432.5 341.2L420.5 341.2Z" fill="#000"/>
<text x="444.3" y="341.9" font-size="15" text-anchor="start" fill="#000">HLA-DR</text>
<path d="M413 357.8H441" stroke="#000" stroke-width="2.2" stroke-dasharray="5 2 1 2"/>
<path d="M426.5 362.8L431.9 352.1L421.1 352.1Z" fill="#000"/>
<text x="444.3" y="363.2" font-size="15" text-anchor="start" fill="#000">CD38</text>
<path d="M413 379H441" stroke="#000" stroke-width="2.0"/>
<circle cx="426.5" cy="378.5" r="4.8" fill="none" stroke="#000" stroke-width="2"/>
<text x="444.3" y="384.4" font-size="15" text-anchor="start" fill="#000">CD69</text>
<path d="M413 400H441" stroke="#000" stroke-width="2.6"/>
<rect x="421.2" y="394.2" width="10.6" height="10.6" fill="none" stroke="#000" stroke-width="2.2"/>
<text x="444.3" y="405.4" font-size="15" text-anchor="start" fill="#000">CD134</text>
<text x="-0.5" y="557.2" font-size="24.5" font-weight="bold" text-anchor="start" fill="#000">C</text>
<text x="72.3" y="552.2" font-size="17.7" text-anchor="start" fill="#000">unstimulated</text>
<text x="298.2" y="552.4" font-size="17.7" text-anchor="start" fill="#000">stimulated</text>
<path d="M113 600h1v1h-1zM122 601h1v1h-1zM72 603h1v1h-1zM82 606h1v1h-1zM142 607h1v1h-1zM77 611h1v1h-1zM114 611h1v1h-1zM107 612h1v1h-1zM125 612h1v1h-1zM141 612h1v1h-1zM143 612h1v1h-1zM151 612h1v1h-1zM71 613h1v1h-1zM85 613h1v1h-1zM91 613h1v1h-1zM95 613h1v1h-1zM100 613h1v1h-1zM103 613h1v1h-1zM107 613h1v1h-1zM114 613h1v1h-1zM122 613h1v1h-1zM128 613h1v1h-1zM130 613h1v1h-1zM132 613h1v1h-1zM135 613h1v1h-1zM138 613h1v1h-1zM154 613h1v1h-1zM71 614h1v1h-1zM73 614h1v1h-1zM75 614h1v1h-1zM77 614h2v1h-2zM81 614h1v1h-1zM83 614h3v1h-3zM87 614h1v1h-1zM89 614h5v1h-5zM95 614h1v1h-1zM103 614h1v1h-1zM107 614h1v1h-1zM111 614h1v1h-1zM116 614h1v1h-1zM119 614h2v1h-2zM125 614h1v1h-1zM127 614h1v1h-1zM130 614h1v1h-1zM132 614h3v1h-3zM137 614h1v1h-1zM141 614h1v1h-1zM143 614h3v1h-3zM154 614h1v1h-1zM157 614h1v1h-1zM159 614h2v1h-2zM162 614h2v1h-2zM71 615h3v1h-3zM76 615h7v1h-7zM85 615h2v1h-2zM88 615h5v1h-5zM94 615h2v1h-2zM99 615h2v1h-2zM102 615h1v1h-1zM104 615h1v1h-1zM107 615h1v1h-1zM109 615h8v1h-8zM118 615h3v1h-3zM122 615h3v1h-3zM128 615h1v1h-1zM130 615h2v1h-2zM134 615h1v1h-1zM138 615h9v1h-9zM149 615h1v1h-1zM152 615h1v1h-1zM154 615h2v1h-2zM157 615h1v1h-1zM159 615h2v1h-2zM162 615h2v1h-2zM166 615h1v1h-1zM72 616h31v1h-31zM104 616h18v1h-18zM123 616h28v1h-28zM152 616h13v1h-13zM169 616h1v1h-1zM71 617h96v1h-96zM71 618h93v1h-93zM165 618h1v1h-1zM71 619h96v1h-96zM71 620h95v1h-95zM71 621h95v1h-95zM168 621h1v1h-1zM71 622h94v1h-94zM169 622h1v1h-1zM71 623h95v1h-95zM167 623h1v1h-1zM71 624h95v1h-95zM167 624h1v1h-1zM71 625h96v1h-96zM71 626h99v1h-99zM71 627h95v1h-95zM169 627h1v1h-1zM71 628h94v1h-94zM166 628h1v1h-1zM71 629h95v1h-95zM171 629h1v1h-1zM71 630h93v1h-93z" fill="#000"/>
<rect x="70.2" y="559.2" width="128" height="72.1" fill="none" stroke="#000" stroke-width="1.5"/>
<path d="M65.7 631.3H70.2M70.2 631.3v3.2M67 625.9H70.2M79.8 631.3v2M67 622.7H70.2M85.5 631.3v2M67 620.4H70.2M89.5 631.3v2M67 618.7H70.2M92.6 631.3v2M67 617.3H70.2M95.1 631.3v2M67 616.1H70.2M97.2 631.3v2M67 615H70.2M99.1 631.3v2M67 614.1H70.2M100.7 631.3v2M65.7 613.3H70.2M102.2 631.3v3.2M67 607.8H70.2M111.8 631.3v2M67 604.7H70.2M117.5 631.3v2M67 602.4H70.2M121.5 631.3v2M67 600.7H70.2M124.6 631.3v2M67 599.2H70.2M127.1 631.3v2M67 598H70.2M129.2 631.3v2M67 597H70.2M131.1 631.3v2M67 596.1H70.2M132.7 631.3v2M65.7 595.2H70.2M134.2 631.3v3.2M67 589.8H70.2M143.8 631.3v2M67 586.6H70.2M149.5 631.3v2M67 584.4H70.2M153.5 631.3v2M67 582.7H70.2M156.6 631.3v2M67 581.2H70.2M159.1 631.3v2M67 580H70.2M161.2 631.3v2M67 579H70.2M163.1 631.3v2M67 578H70.2M164.7 631.3v2M65.7 577.2H70.2M166.2 631.3v3.2M67 571.8H70.2M175.8 631.3v2M67 568.6H70.2M181.5 631.3v2M67 566.4H70.2M185.5 631.3v2M67 564.6H70.2M188.6 631.3v2M67 563.2H70.2M191.1 631.3v2M67 562H70.2M193.2 631.3v2M67 560.9H70.2M195.1 631.3v2M67 560H70.2M196.7 631.3v2" stroke="#111" stroke-width="1.1"/>
<path d="M108.8 559.2V631.3" stroke="#000" stroke-width="1"/>
<path d="M70.2 616.5H198.2" stroke="#000" stroke-width="1"/>
<path d="M153 646h1v1h-1zM155 646h1v1h-1zM81 647h1v1h-1zM127 647h1v1h-1zM155 647h1v1h-1zM153 649h1v1h-1zM105 650h1v1h-1zM126 651h1v1h-1zM123 652h2v1h-2zM78 653h1v1h-1zM123 653h1v1h-1zM149 653h2v1h-2zM152 653h1v1h-1zM76 654h1v1h-1zM89 654h1v1h-1zM97 654h1v1h-1zM99 654h1v1h-1zM108 654h1v1h-1zM119 654h1v1h-1zM121 654h1v1h-1zM81 655h1v1h-1zM95 655h1v1h-1zM101 655h1v1h-1zM105 655h1v1h-1zM114 655h1v1h-1zM147 655h1v1h-1zM153 655h2v1h-2zM163 655h1v1h-1zM77 656h1v1h-1zM87 656h1v1h-1zM97 656h1v1h-1zM105 656h1v1h-1zM109 656h1v1h-1zM116 656h1v1h-1zM119 656h1v1h-1zM127 656h1v1h-1zM129 656h1v1h-1zM134 656h1v1h-1zM136 656h1v1h-1zM145 656h1v1h-1zM147 656h1v1h-1zM153 656h1v1h-1zM164 656h1v1h-1zM80 657h1v1h-1zM85 657h2v1h-2zM93 657h1v1h-1zM97 657h2v1h-2zM100 657h1v1h-1zM103 657h1v1h-1zM117 657h1v1h-1zM124 657h2v1h-2zM131 657h1v1h-1zM134 657h1v1h-1zM151 657h1v1h-1zM155 657h4v1h-4zM160 657h1v1h-1zM74 658h1v1h-1zM78 658h1v1h-1zM80 658h1v1h-1zM89 658h1v1h-1zM99 658h1v1h-1zM106 658h2v1h-2zM109 658h1v1h-1zM111 658h2v1h-2zM116 658h1v1h-1zM127 658h1v1h-1zM130 658h1v1h-1zM133 658h1v1h-1zM141 658h1v1h-1zM143 658h1v1h-1zM150 658h1v1h-1zM162 658h1v1h-1zM72 659h1v1h-1zM78 659h2v1h-2zM88 659h3v1h-3zM93 659h1v1h-1zM95 659h1v1h-1zM102 659h1v1h-1zM106 659h1v1h-1zM113 659h1v1h-1zM121 659h2v1h-2zM128 659h1v1h-1zM135 659h1v1h-1zM138 659h2v1h-2zM142 659h2v1h-2zM146 659h3v1h-3zM152 659h1v1h-1zM156 659h1v1h-1zM162 659h1v1h-1zM76 660h1v1h-1zM84 660h3v1h-3zM95 660h1v1h-1zM98 660h4v1h-4zM104 660h1v1h-1zM109 660h2v1h-2zM112 660h2v1h-2zM117 660h1v1h-1zM120 660h1v1h-1zM123 660h1v1h-1zM127 660h1v1h-1zM129 660h1v1h-1zM135 660h2v1h-2zM141 660h1v1h-1zM146 660h3v1h-3zM151 660h1v1h-1zM154 660h3v1h-3zM160 660h2v1h-2zM163 660h1v1h-1zM168 660h1v1h-1zM170 660h1v1h-1zM72 661h1v1h-1zM74 661h1v1h-1zM77 661h1v1h-1zM79 661h1v1h-1zM82 661h1v1h-1zM85 661h1v1h-1zM91 661h1v1h-1zM94 661h3v1h-3zM98 661h1v1h-1zM101 661h1v1h-1zM106 661h2v1h-2zM110 661h2v1h-2zM113 661h1v1h-1zM123 661h1v1h-1zM126 661h1v1h-1zM135 661h1v1h-1zM137 661h2v1h-2zM140 661h2v1h-2zM143 661h1v1h-1zM150 661h2v1h-2zM155 661h1v1h-1zM78 662h1v1h-1zM80 662h2v1h-2zM83 662h4v1h-4zM89 662h1v1h-1zM91 662h1v1h-1zM100 662h1v1h-1zM103 662h1v1h-1zM105 662h1v1h-1zM107 662h2v1h-2zM111 662h4v1h-4zM116 662h1v1h-1zM122 662h1v1h-1zM124 662h2v1h-2zM130 662h1v1h-1zM133 662h1v1h-1zM135 662h1v1h-1zM141 662h1v1h-1zM143 662h4v1h-4zM149 662h1v1h-1zM151 662h5v1h-5zM157 662h1v1h-1zM162 662h1v1h-1zM164 662h2v1h-2zM71 663h6v1h-6zM78 663h1v1h-1zM80 663h1v1h-1zM85 663h1v1h-1zM88 663h2v1h-2zM94 663h1v1h-1zM101 663h3v1h-3zM105 663h2v1h-2zM109 663h2v1h-2zM113 663h1v1h-1zM116 663h1v1h-1zM118 663h2v1h-2zM123 663h2v1h-2zM131 663h1v1h-1zM133 663h2v1h-2zM136 663h4v1h-4zM141 663h1v1h-1zM143 663h2v1h-2zM146 663h4v1h-4zM154 663h1v1h-1zM166 663h1v1h-1zM70 664h1v1h-1zM72 664h2v1h-2zM76 664h4v1h-4zM81 664h2v1h-2zM84 664h2v1h-2zM89 664h1v1h-1zM91 664h1v1h-1zM95 664h1v1h-1zM99 664h1v1h-1zM101 664h2v1h-2zM106 664h2v1h-2zM109 664h1v1h-1zM112 664h1v1h-1zM115 664h2v1h-2zM118 664h3v1h-3zM122 664h1v1h-1zM126 664h2v1h-2zM130 664h1v1h-1zM132 664h3v1h-3zM136 664h1v1h-1zM138 664h1v1h-1zM143 664h3v1h-3zM147 664h1v1h-1zM152 664h2v1h-2zM156 664h1v1h-1zM158 664h2v1h-2zM71 665h1v1h-1zM75 665h3v1h-3zM79 665h2v1h-2zM84 665h2v1h-2zM87 665h4v1h-4zM95 665h3v1h-3zM99 665h1v1h-1zM104 665h2v1h-2zM107 665h3v1h-3zM111 665h3v1h-3zM117 665h1v1h-1zM119 665h2v1h-2zM123 665h2v1h-2zM126 665h2v1h-2zM129 665h2v1h-2zM136 665h3v1h-3zM143 665h1v1h-1zM145 665h5v1h-5zM153 665h1v1h-1zM155 665h1v1h-1zM157 665h3v1h-3zM163 665h3v1h-3zM72 666h1v1h-1zM75 666h6v1h-6zM82 666h3v1h-3zM89 666h1v1h-1zM91 666h2v1h-2zM94 666h1v1h-1zM96 666h1v1h-1zM98 666h1v1h-1zM100 666h3v1h-3zM104 666h1v1h-1zM107 666h4v1h-4zM112 666h1v1h-1zM114 666h6v1h-6zM123 666h1v1h-1zM127 666h1v1h-1zM129 666h1v1h-1zM131 666h1v1h-1zM133 666h1v1h-1zM136 666h1v1h-1zM138 666h1v1h-1zM141 666h1v1h-1zM144 666h3v1h-3zM155 666h2v1h-2zM159 666h1v1h-1zM162 666h1v1h-1zM70 667h1v1h-1zM79 667h1v1h-1zM82 667h1v1h-1zM85 667h1v1h-1zM87 667h3v1h-3zM91 667h1v1h-1zM93 667h2v1h-2zM96 667h1v1h-1zM98 667h2v1h-2zM101 667h3v1h-3zM107 667h1v1h-1zM109 667h1v1h-1zM111 667h2v1h-2zM117 667h1v1h-1zM127 667h3v1h-3zM131 667h3v1h-3zM136 667h2v1h-2zM139 667h2v1h-2zM142 667h3v1h-3zM149 667h1v1h-1zM154 667h1v1h-1zM159 667h1v1h-1zM161 667h1v1h-1zM163 667h3v1h-3zM180 667h1v1h-1zM70 668h1v1h-1zM72 668h1v1h-1zM75 668h1v1h-1zM77 668h1v1h-1zM79 668h1v1h-1zM81 668h1v1h-1zM87 668h1v1h-1zM90 668h1v1h-1zM92 668h1v1h-1zM96 668h1v1h-1zM99 668h7v1h-7zM108 668h2v1h-2zM112 668h1v1h-1zM114 668h1v1h-1zM116 668h1v1h-1zM118 668h2v1h-2zM121 668h2v1h-2zM124 668h1v1h-1zM126 668h4v1h-4zM131 668h1v1h-1zM133 668h11v1h-11zM147 668h1v1h-1zM150 668h2v1h-2zM153 668h2v1h-2zM156 668h1v1h-1zM158 668h1v1h-1zM160 668h2v1h-2zM164 668h1v1h-1zM167 668h1v1h-1zM184 668h1v1h-1zM73 669h3v1h-3zM79 669h3v1h-3zM85 669h1v1h-1zM88 669h6v1h-6zM96 669h2v1h-2zM99 669h2v1h-2zM103 669h4v1h-4zM109 669h1v1h-1zM113 669h4v1h-4zM118 669h3v1h-3zM122 669h1v1h-1zM125 669h1v1h-1zM127 669h2v1h-2zM133 669h4v1h-4zM139 669h7v1h-7zM147 669h2v1h-2zM150 669h1v1h-1zM153 669h1v1h-1zM156 669h1v1h-1zM159 669h1v1h-1zM165 669h1v1h-1zM167 669h1v1h-1zM72 670h3v1h-3zM78 670h3v1h-3zM84 670h1v1h-1zM86 670h3v1h-3zM91 670h2v1h-2zM94 670h5v1h-5zM100 670h1v1h-1zM102 670h1v1h-1zM104 670h8v1h-8zM114 670h1v1h-1zM116 670h3v1h-3zM120 670h4v1h-4zM125 670h2v1h-2zM131 670h4v1h-4zM138 670h1v1h-1zM143 670h2v1h-2zM146 670h1v1h-1zM150 670h2v1h-2zM153 670h3v1h-3zM158 670h6v1h-6zM167 670h1v1h-1zM70 671h1v1h-1zM73 671h1v1h-1zM75 671h1v1h-1zM78 671h5v1h-5zM84 671h7v1h-7zM92 671h4v1h-4zM98 671h7v1h-7zM106 671h3v1h-3zM110 671h3v1h-3zM114 671h1v1h-1zM116 671h1v1h-1zM118 671h1v1h-1zM121 671h1v1h-1zM123 671h2v1h-2zM128 671h1v1h-1zM130 671h2v1h-2zM133 671h1v1h-1zM135 671h7v1h-7zM147 671h1v1h-1zM149 671h1v1h-1zM151 671h6v1h-6zM158 671h7v1h-7zM77 672h5v1h-5zM83 672h1v1h-1zM85 672h3v1h-3zM89 672h3v1h-3zM94 672h2v1h-2zM97 672h1v1h-1zM99 672h2v1h-2zM104 672h1v1h-1zM106 672h4v1h-4zM113 672h7v1h-7zM121 672h3v1h-3zM125 672h1v1h-1zM127 672h1v1h-1zM130 672h5v1h-5zM138 672h2v1h-2zM144 672h3v1h-3zM148 672h12v1h-12zM162 672h2v1h-2zM70 673h1v1h-1zM72 673h1v1h-1zM74 673h4v1h-4zM79 673h2v1h-2zM82 673h2v1h-2zM85 673h2v1h-2zM88 673h4v1h-4zM93 673h5v1h-5zM99 673h8v1h-8zM108 673h2v1h-2zM111 673h10v1h-10zM122 673h1v1h-1zM124 673h2v1h-2zM127 673h5v1h-5zM133 673h4v1h-4zM138 673h1v1h-1zM141 673h7v1h-7zM149 673h4v1h-4zM155 673h4v1h-4zM160 673h6v1h-6zM72 674h1v1h-1zM75 674h1v1h-1zM77 674h1v1h-1zM79 674h1v1h-1zM81 674h1v1h-1zM83 674h20v1h-20zM104 674h6v1h-6zM111 674h1v1h-1zM114 674h1v1h-1zM117 674h3v1h-3zM121 674h1v1h-1zM125 674h1v1h-1zM128 674h5v1h-5zM134 674h1v1h-1zM136 674h1v1h-1zM139 674h2v1h-2zM143 674h3v1h-3zM147 674h4v1h-4zM153 674h3v1h-3zM157 674h1v1h-1zM159 674h5v1h-5zM165 674h1v1h-1zM167 674h1v1h-1zM72 675h1v1h-1zM74 675h1v1h-1zM77 675h1v1h-1zM80 675h4v1h-4zM86 675h11v1h-11zM99 675h4v1h-4zM104 675h11v1h-11zM116 675h4v1h-4zM121 675h13v1h-13zM135 675h2v1h-2zM138 675h2v1h-2zM141 675h3v1h-3zM145 675h3v1h-3zM149 675h4v1h-4zM154 675h2v1h-2zM157 675h10v1h-10zM71 676h3v1h-3zM76 676h1v1h-1zM79 676h1v1h-1zM82 676h5v1h-5zM88 676h2v1h-2zM92 676h1v1h-1zM94 676h2v1h-2zM97 676h8v1h-8zM107 676h1v1h-1zM109 676h1v1h-1zM111 676h1v1h-1zM114 676h9v1h-9zM124 676h2v1h-2zM127 676h1v1h-1zM129 676h1v1h-1zM131 676h3v1h-3zM136 676h3v1h-3zM140 676h2v1h-2zM143 676h5v1h-5zM149 676h7v1h-7zM157 676h2v1h-2zM160 676h5v1h-5zM166 676h1v1h-1zM71 677h1v1h-1zM73 677h1v1h-1zM75 677h4v1h-4zM80 677h11v1h-11zM92 677h7v1h-7zM101 677h3v1h-3zM105 677h1v1h-1zM107 677h2v1h-2zM110 677h8v1h-8zM120 677h3v1h-3zM124 677h7v1h-7zM132 677h3v1h-3zM136 677h7v1h-7zM144 677h2v1h-2zM148 677h7v1h-7zM156 677h3v1h-3zM160 677h2v1h-2zM163 677h1v1h-1zM166 677h1v1h-1zM72 678h2v1h-2zM75 678h1v1h-1zM77 678h13v1h-13zM91 678h9v1h-9zM101 678h1v1h-1zM103 678h4v1h-4zM109 678h10v1h-10zM120 678h1v1h-1zM122 678h2v1h-2zM126 678h2v1h-2zM129 678h1v1h-1zM131 678h4v1h-4zM137 678h10v1h-10zM148 678h6v1h-6zM158 678h3v1h-3zM163 678h4v1h-4zM72 679h2v1h-2zM75 679h2v1h-2zM78 679h5v1h-5zM84 679h6v1h-6zM91 679h8v1h-8zM100 679h1v1h-1zM102 679h1v1h-1zM104 679h5v1h-5zM110 679h6v1h-6zM117 679h11v1h-11zM131 679h9v1h-9zM141 679h7v1h-7zM149 679h4v1h-4zM154 679h6v1h-6zM161 679h4v1h-4zM166 679h3v1h-3zM71 680h1v1h-1zM74 680h8v1h-8zM83 680h3v1h-3zM87 680h1v1h-1zM89 680h3v1h-3zM93 680h1v1h-1zM95 680h2v1h-2zM99 680h13v1h-13zM113 680h3v1h-3zM117 680h3v1h-3zM121 680h8v1h-8zM130 680h13v1h-13zM144 680h1v1h-1zM148 680h1v1h-1zM150 680h2v1h-2zM153 680h6v1h-6zM160 680h2v1h-2zM163 680h4v1h-4zM70 681h6v1h-6zM77 681h4v1h-4zM82 681h4v1h-4zM88 681h2v1h-2zM93 681h12v1h-12zM107 681h2v1h-2zM110 681h12v1h-12zM123 681h2v1h-2zM126 681h1v1h-1zM128 681h2v1h-2zM131 681h8v1h-8zM140 681h4v1h-4zM145 681h3v1h-3zM150 681h5v1h-5zM156 681h1v1h-1zM158 681h1v1h-1zM160 681h8v1h-8zM70 682h4v1h-4zM76 682h5v1h-5zM82 682h1v1h-1zM84 682h2v1h-2zM88 682h6v1h-6zM95 682h16v1h-16zM112 682h17v1h-17zM130 682h3v1h-3zM134 682h4v1h-4zM139 682h12v1h-12zM152 682h2v1h-2zM157 682h9v1h-9zM70 683h2v1h-2zM73 683h4v1h-4zM78 683h3v1h-3zM82 683h1v1h-1zM84 683h4v1h-4zM89 683h28v1h-28zM118 683h1v1h-1zM120 683h2v1h-2zM123 683h30v1h-30zM154 683h12v1h-12zM70 684h5v1h-5zM78 684h3v1h-3zM82 684h9v1h-9zM92 684h4v1h-4zM97 684h15v1h-15zM113 684h20v1h-20zM134 684h20v1h-20zM155 684h10v1h-10zM70 685h10v1h-10zM81 685h9v1h-9zM91 685h19v1h-19zM111 685h5v1h-5zM117 685h1v1h-1zM119 685h7v1h-7zM127 685h11v1h-11zM139 685h8v1h-8zM148 685h7v1h-7zM156 685h11v1h-11zM70 686h17v1h-17zM88 686h5v1h-5zM95 686h10v1h-10zM106 686h7v1h-7zM114 686h21v1h-21zM136 686h12v1h-12zM149 686h4v1h-4zM154 686h3v1h-3zM158 686h5v1h-5zM164 686h3v1h-3zM71 687h20v1h-20zM92 687h13v1h-13zM108 687h12v1h-12zM121 687h46v1h-46zM70 688h9v1h-9zM80 688h16v1h-16zM97 688h10v1h-10zM108 688h12v1h-12zM121 688h4v1h-4zM126 688h24v1h-24zM151 688h4v1h-4zM156 688h3v1h-3zM160 688h5v1h-5zM166 688h2v1h-2zM70 689h1v1h-1zM72 689h16v1h-16zM89 689h5v1h-5zM95 689h2v1h-2zM98 689h12v1h-12zM111 689h3v1h-3zM116 689h3v1h-3zM120 689h13v1h-13zM134 689h7v1h-7zM142 689h25v1h-25zM70 690h9v1h-9zM80 690h47v1h-47zM128 690h34v1h-34zM163 690h5v1h-5zM70 691h2v1h-2zM75 691h9v1h-9zM85 691h14v1h-14zM100 691h10v1h-10zM111 691h51v1h-51zM163 691h2v1h-2zM167 691h1v1h-1zM70 692h2v1h-2zM74 692h1v1h-1zM76 692h35v1h-35zM112 692h36v1h-36zM149 692h6v1h-6zM156 692h6v1h-6zM163 692h5v1h-5zM70 693h11v1h-11zM82 693h8v1h-8zM91 693h1v1h-1zM93 693h10v1h-10zM104 693h3v1h-3zM108 693h18v1h-18zM127 693h1v1h-1zM129 693h16v1h-16zM147 693h19v1h-19zM167 693h1v1h-1zM172 693h1v1h-1zM71 694h11v1h-11zM83 694h19v1h-19zM103 694h7v1h-7zM111 694h13v1h-13zM125 694h22v1h-22zM148 694h7v1h-7zM156 694h4v1h-4zM161 694h5v1h-5zM167 694h1v1h-1zM70 695h1v1h-1zM72 695h3v1h-3zM76 695h71v1h-71zM148 695h6v1h-6zM155 695h8v1h-8zM164 695h1v1h-1zM70 696h2v1h-2zM73 696h14v1h-14zM89 696h18v1h-18zM108 696h2v1h-2zM111 696h13v1h-13zM125 696h11v1h-11zM137 696h5v1h-5zM143 696h2v1h-2zM146 696h7v1h-7zM154 696h15v1h-15zM70 697h66v1h-66zM137 697h23v1h-23zM161 697h3v1h-3zM165 697h1v1h-1zM72 698h9v1h-9zM83 698h44v1h-44zM128 698h1v1h-1zM130 698h36v1h-36zM72 699h3v1h-3zM76 699h4v1h-4zM81 699h15v1h-15zM97 699h40v1h-40zM138 699h29v1h-29zM70 700h3v1h-3zM74 700h1v1h-1zM77 700h1v1h-1zM79 700h5v1h-5zM85 700h2v1h-2zM88 700h3v1h-3zM92 700h2v1h-2zM95 700h2v1h-2zM98 700h26v1h-26zM125 700h7v1h-7zM133 700h28v1h-28zM162 700h4v1h-4zM167 700h1v1h-1zM70 701h7v1h-7zM78 701h3v1h-3zM82 701h17v1h-17zM100 701h9v1h-9zM110 701h42v1h-42zM153 701h4v1h-4zM158 701h7v1h-7zM166 701h3v1h-3zM70 702h98v1h-98zM70 703h7v1h-7zM78 703h5v1h-5zM84 703h65v1h-65zM150 703h17v1h-17zM70 704h10v1h-10zM81 704h4v1h-4zM86 704h51v1h-51zM138 704h27v1h-27zM166 704h2v1h-2zM70 705h12v1h-12zM84 705h4v1h-4zM89 705h15v1h-15zM105 705h1v1h-1zM107 705h9v1h-9zM117 705h21v1h-21zM139 705h19v1h-19zM159 705h6v1h-6zM71 706h2v1h-2zM74 706h11v1h-11zM86 706h3v1h-3zM90 706h6v1h-6zM97 706h16v1h-16zM114 706h8v1h-8zM123 706h6v1h-6zM130 706h34v1h-34zM165 706h2v1h-2zM168 706h1v1h-1zM70 707h39v1h-39zM110 707h54v1h-54zM165 707h1v1h-1zM171 707h1v1h-1zM70 708h3v1h-3zM74 708h30v1h-30zM105 708h35v1h-35zM141 708h26v1h-26zM70 709h2v1h-2zM73 709h4v1h-4zM78 709h20v1h-20zM99 709h21v1h-21zM121 709h5v1h-5zM127 709h40v1h-40zM70 710h5v1h-5zM76 710h4v1h-4zM81 710h4v1h-4zM86 710h4v1h-4zM91 710h1v1h-1zM93 710h5v1h-5zM99 710h17v1h-17zM117 710h20v1h-20zM138 710h21v1h-21zM160 710h7v1h-7zM70 711h6v1h-6zM77 711h21v1h-21zM99 711h12v1h-12zM112 711h22v1h-22zM135 711h29v1h-29zM71 712h2v1h-2zM74 712h1v1h-1zM76 712h4v1h-4zM81 712h2v1h-2zM84 712h12v1h-12zM98 712h8v1h-8zM107 712h17v1h-17zM125 712h40v1h-40zM71 713h8v1h-8zM80 713h2v1h-2zM83 713h8v1h-8zM92 713h40v1h-40zM133 713h19v1h-19zM153 713h7v1h-7zM161 713h7v1h-7zM172 713h1v1h-1zM70 714h7v1h-7zM78 714h28v1h-28zM107 714h60v1h-60zM70 715h1v1h-1zM73 715h6v1h-6zM80 715h5v1h-5zM86 715h12v1h-12zM99 715h5v1h-5zM105 715h8v1h-8zM114 715h7v1h-7zM122 715h10v1h-10zM133 715h12v1h-12zM146 715h20v1h-20zM167 715h2v1h-2zM71 716h2v1h-2zM74 716h1v1h-1zM76 716h5v1h-5zM82 716h4v1h-4zM89 716h2v1h-2zM92 716h22v1h-22zM115 716h38v1h-38zM154 716h15v1h-15z" fill="#000"/>
<rect x="69.8" y="646" width="127.9" height="70.9" fill="none" stroke="#000" stroke-width="1.5"/>
<path d="M65.3 716.9H69.8M69.8 716.9v3.2M66.6 711.6H69.8M79.4 716.9v2M66.6 708.4H69.8M85.1 716.9v2M66.6 706.2H69.8M89.1 716.9v2M66.6 704.5H69.8M92.1 716.9v2M66.6 703.1H69.8M94.7 716.9v2M66.6 701.9H69.8M96.8 716.9v2M66.6 700.9H69.8M98.7 716.9v2M66.6 700H69.8M100.3 716.9v2M65.3 699.2H69.8M101.8 716.9v3.2M66.6 693.8H69.8M111.4 716.9v2M66.6 690.7H69.8M117 716.9v2M66.6 688.5H69.8M121 716.9v2M66.6 686.8H69.8M124.1 716.9v2M66.6 685.4H69.8M126.7 716.9v2M66.6 684.2H69.8M128.8 716.9v2M66.6 683.2H69.8M130.7 716.9v2M66.6 682.3H69.8M132.3 716.9v2M65.3 681.5H69.8M133.8 716.9v3.2M66.6 676.1H69.8M143.4 716.9v2M66.6 673H69.8M149 716.9v2M66.6 670.8H69.8M153 716.9v2M66.6 669.1H69.8M156.1 716.9v2M66.6 667.7H69.8M158.6 716.9v2M66.6 666.5H69.8M160.8 716.9v2M66.6 665.4H69.8M162.6 716.9v2M66.6 664.5H69.8M164.3 716.9v2M65.3 663.7H69.8M165.7 716.9v3.2M66.6 658.4H69.8M175.4 716.9v2M66.6 655.3H69.8M181 716.9v2M66.6 653.1H69.8M185 716.9v2M66.6 651.3H69.8M188.1 716.9v2M66.6 649.9H69.8M190.6 716.9v2M66.6 648.7H69.8M192.7 716.9v2M66.6 647.7H69.8M194.6 716.9v2M66.6 646.8H69.8M196.2 716.9v2" stroke="#111" stroke-width="1.1"/>
<path d="M108.7 646V716.9" stroke="#000" stroke-width="1"/>
<path d="M166.5 704H197.7" stroke="#000" stroke-width="1"/>
<path d="M92 747h1v1h-1zM98 747h1v1h-1zM109 748h1v1h-1zM78 749h1v1h-1zM71 750h1v1h-1zM83 750h1v1h-1zM91 751h1v1h-1zM73 753h1v1h-1zM77 753h2v1h-2zM88 753h2v1h-2zM93 753h1v1h-1zM96 753h1v1h-1zM82 754h1v1h-1zM86 754h1v1h-1zM78 755h2v1h-2zM83 755h1v1h-1zM94 755h1v1h-1zM101 755h1v1h-1zM86 756h1v1h-1zM93 756h1v1h-1zM107 756h1v1h-1zM114 756h1v1h-1zM74 757h1v1h-1zM79 757h1v1h-1zM81 757h1v1h-1zM97 757h2v1h-2zM100 757h2v1h-2zM104 757h1v1h-1zM79 758h1v1h-1zM83 758h2v1h-2zM86 758h1v1h-1zM90 758h2v1h-2zM93 758h1v1h-1zM95 758h1v1h-1zM100 758h1v1h-1zM108 758h1v1h-1zM111 758h1v1h-1zM147 758h1v1h-1zM74 759h1v1h-1zM82 759h1v1h-1zM84 759h1v1h-1zM89 759h2v1h-2zM97 759h1v1h-1zM100 759h1v1h-1zM129 759h1v1h-1zM76 760h1v1h-1zM83 760h1v1h-1zM85 760h1v1h-1zM87 760h2v1h-2zM90 760h4v1h-4zM99 760h1v1h-1zM101 760h1v1h-1zM70 761h1v1h-1zM73 761h1v1h-1zM75 761h1v1h-1zM79 761h1v1h-1zM83 761h1v1h-1zM89 761h1v1h-1zM96 761h3v1h-3zM112 761h1v1h-1zM121 761h1v1h-1zM70 762h2v1h-2zM83 762h2v1h-2zM92 762h1v1h-1zM99 762h2v1h-2zM144 762h1v1h-1zM158 762h1v1h-1zM73 763h2v1h-2zM76 763h1v1h-1zM84 763h1v1h-1zM86 763h2v1h-2zM91 763h1v1h-1zM95 763h2v1h-2zM101 763h2v1h-2zM104 763h2v1h-2zM126 763h1v1h-1zM69 764h1v1h-1zM73 764h1v1h-1zM75 764h1v1h-1zM78 764h2v1h-2zM81 764h2v1h-2zM89 764h2v1h-2zM95 764h4v1h-4zM100 764h3v1h-3zM130 764h1v1h-1zM132 764h1v1h-1zM136 764h1v1h-1zM71 765h1v1h-1zM73 765h2v1h-2zM78 765h2v1h-2zM82 765h3v1h-3zM88 765h4v1h-4zM93 765h3v1h-3zM100 765h2v1h-2zM110 765h1v1h-1zM121 765h2v1h-2zM71 766h1v1h-1zM74 766h1v1h-1zM76 766h6v1h-6zM84 766h4v1h-4zM89 766h2v1h-2zM92 766h1v1h-1zM94 766h3v1h-3zM99 766h1v1h-1zM105 766h1v1h-1zM107 766h2v1h-2zM117 766h2v1h-2zM122 766h1v1h-1zM126 766h1v1h-1zM132 766h1v1h-1zM141 766h1v1h-1zM143 766h1v1h-1zM156 766h1v1h-1zM74 767h1v1h-1zM77 767h1v1h-1zM79 767h2v1h-2zM82 767h1v1h-1zM85 767h5v1h-5zM92 767h1v1h-1zM94 767h3v1h-3zM98 767h3v1h-3zM102 767h1v1h-1zM105 767h1v1h-1zM108 767h1v1h-1zM123 767h1v1h-1zM127 767h1v1h-1zM142 767h2v1h-2zM147 767h1v1h-1zM69 768h1v1h-1zM72 768h1v1h-1zM76 768h3v1h-3zM80 768h1v1h-1zM83 768h1v1h-1zM85 768h3v1h-3zM90 768h2v1h-2zM93 768h1v1h-1zM95 768h5v1h-5zM102 768h1v1h-1zM107 768h1v1h-1zM109 768h2v1h-2zM112 768h1v1h-1zM117 768h1v1h-1zM120 768h1v1h-1zM126 768h1v1h-1zM132 768h1v1h-1zM142 768h1v1h-1zM145 768h1v1h-1zM159 768h1v1h-1zM73 769h1v1h-1zM77 769h1v1h-1zM80 769h1v1h-1zM87 769h2v1h-2zM91 769h4v1h-4zM100 769h4v1h-4zM138 769h2v1h-2zM142 769h2v1h-2zM157 769h2v1h-2zM167 769h1v1h-1zM71 770h1v1h-1zM74 770h2v1h-2zM77 770h1v1h-1zM82 770h4v1h-4zM88 770h5v1h-5zM94 770h1v1h-1zM98 770h4v1h-4zM106 770h1v1h-1zM108 770h1v1h-1zM113 770h1v1h-1zM122 770h1v1h-1zM133 770h1v1h-1zM135 770h1v1h-1zM145 770h1v1h-1zM158 770h1v1h-1zM70 771h2v1h-2zM73 771h1v1h-1zM75 771h1v1h-1zM77 771h1v1h-1zM79 771h1v1h-1zM81 771h4v1h-4zM86 771h2v1h-2zM93 771h1v1h-1zM95 771h1v1h-1zM97 771h9v1h-9zM110 771h1v1h-1zM125 771h2v1h-2zM133 771h2v1h-2zM137 771h1v1h-1zM139 771h1v1h-1zM144 771h1v1h-1zM151 771h1v1h-1zM71 772h1v1h-1zM73 772h2v1h-2zM76 772h12v1h-12zM89 772h1v1h-1zM91 772h3v1h-3zM96 772h5v1h-5zM102 772h2v1h-2zM111 772h3v1h-3zM118 772h1v1h-1zM123 772h1v1h-1zM134 772h1v1h-1zM139 772h1v1h-1zM141 772h1v1h-1zM144 772h1v1h-1zM147 772h1v1h-1zM154 772h1v1h-1zM168 772h1v1h-1zM70 773h1v1h-1zM72 773h2v1h-2zM77 773h1v1h-1zM82 773h9v1h-9zM92 773h7v1h-7zM104 773h1v1h-1zM107 773h3v1h-3zM114 773h1v1h-1zM117 773h1v1h-1zM124 773h2v1h-2zM130 773h1v1h-1zM143 773h1v1h-1zM145 773h1v1h-1zM150 773h1v1h-1zM154 773h1v1h-1zM156 773h2v1h-2zM73 774h1v1h-1zM77 774h2v1h-2zM80 774h2v1h-2zM83 774h6v1h-6zM90 774h4v1h-4zM96 774h3v1h-3zM100 774h2v1h-2zM104 774h2v1h-2zM110 774h1v1h-1zM112 774h1v1h-1zM115 774h1v1h-1zM117 774h2v1h-2zM125 774h1v1h-1zM142 774h1v1h-1zM146 774h2v1h-2zM151 774h2v1h-2zM71 775h2v1h-2zM75 775h1v1h-1zM78 775h3v1h-3zM82 775h3v1h-3zM86 775h3v1h-3zM92 775h2v1h-2zM95 775h2v1h-2zM104 775h3v1h-3zM109 775h1v1h-1zM111 775h2v1h-2zM124 775h1v1h-1zM129 775h1v1h-1zM140 775h2v1h-2zM144 775h2v1h-2zM148 775h2v1h-2zM151 775h2v1h-2zM158 775h1v1h-1zM71 776h1v1h-1zM76 776h3v1h-3zM81 776h1v1h-1zM84 776h10v1h-10zM98 776h1v1h-1zM100 776h4v1h-4zM105 776h1v1h-1zM108 776h1v1h-1zM110 776h2v1h-2zM113 776h1v1h-1zM118 776h1v1h-1zM120 776h1v1h-1zM125 776h1v1h-1zM132 776h1v1h-1zM137 776h1v1h-1zM140 776h1v1h-1zM142 776h1v1h-1zM147 776h1v1h-1zM155 776h1v1h-1zM157 776h3v1h-3zM72 777h1v1h-1zM75 777h1v1h-1zM77 777h1v1h-1zM80 777h5v1h-5zM86 777h1v1h-1zM89 777h1v1h-1zM93 777h2v1h-2zM97 777h1v1h-1zM99 777h1v1h-1zM102 777h1v1h-1zM117 777h1v1h-1zM119 777h1v1h-1zM121 777h1v1h-1zM135 777h3v1h-3zM140 777h1v1h-1zM144 777h1v1h-1zM153 777h1v1h-1zM157 777h4v1h-4zM164 777h1v1h-1zM71 778h1v1h-1zM73 778h3v1h-3zM77 778h1v1h-1zM81 778h8v1h-8zM90 778h1v1h-1zM92 778h3v1h-3zM96 778h2v1h-2zM100 778h1v1h-1zM103 778h2v1h-2zM107 778h2v1h-2zM110 778h2v1h-2zM113 778h2v1h-2zM116 778h3v1h-3zM122 778h1v1h-1zM125 778h1v1h-1zM129 778h2v1h-2zM136 778h1v1h-1zM140 778h1v1h-1zM143 778h1v1h-1zM145 778h1v1h-1zM147 778h2v1h-2zM154 778h1v1h-1zM160 778h1v1h-1zM162 778h1v1h-1zM72 779h1v1h-1zM76 779h1v1h-1zM78 779h1v1h-1zM82 779h4v1h-4zM89 779h4v1h-4zM94 779h2v1h-2zM97 779h2v1h-2zM109 779h1v1h-1zM113 779h2v1h-2zM123 779h1v1h-1zM126 779h1v1h-1zM135 779h1v1h-1zM137 779h1v1h-1zM139 779h1v1h-1zM154 779h2v1h-2zM69 780h1v1h-1zM72 780h2v1h-2zM76 780h2v1h-2zM79 780h1v1h-1zM83 780h1v1h-1zM86 780h2v1h-2zM89 780h5v1h-5zM97 780h6v1h-6zM104 780h1v1h-1zM108 780h1v1h-1zM112 780h1v1h-1zM115 780h4v1h-4zM121 780h1v1h-1zM123 780h1v1h-1zM125 780h1v1h-1zM138 780h4v1h-4zM154 780h1v1h-1zM70 781h1v1h-1zM78 781h1v1h-1zM80 781h4v1h-4zM85 781h9v1h-9zM95 781h1v1h-1zM97 781h2v1h-2zM101 781h1v1h-1zM103 781h4v1h-4zM110 781h2v1h-2zM113 781h2v1h-2zM117 781h1v1h-1zM121 781h3v1h-3zM128 781h1v1h-1zM134 781h3v1h-3zM138 781h1v1h-1zM143 781h3v1h-3zM151 781h1v1h-1zM155 781h1v1h-1zM163 781h1v1h-1zM73 782h1v1h-1zM75 782h1v1h-1zM80 782h2v1h-2zM83 782h1v1h-1zM85 782h1v1h-1zM87 782h3v1h-3zM92 782h3v1h-3zM96 782h1v1h-1zM99 782h1v1h-1zM101 782h4v1h-4zM115 782h2v1h-2zM118 782h2v1h-2zM122 782h1v1h-1zM128 782h1v1h-1zM137 782h2v1h-2zM140 782h2v1h-2zM143 782h1v1h-1zM148 782h2v1h-2zM151 782h1v1h-1zM154 782h2v1h-2zM69 783h1v1h-1zM72 783h1v1h-1zM74 783h2v1h-2zM77 783h1v1h-1zM79 783h6v1h-6zM86 783h4v1h-4zM91 783h4v1h-4zM96 783h2v1h-2zM100 783h1v1h-1zM103 783h2v1h-2zM108 783h1v1h-1zM110 783h2v1h-2zM115 783h2v1h-2zM118 783h2v1h-2zM121 783h1v1h-1zM123 783h1v1h-1zM125 783h4v1h-4zM131 783h1v1h-1zM133 783h2v1h-2zM136 783h2v1h-2zM139 783h2v1h-2zM143 783h1v1h-1zM145 783h2v1h-2zM149 783h1v1h-1zM153 783h1v1h-1zM155 783h1v1h-1zM157 783h1v1h-1zM159 783h2v1h-2zM69 784h1v1h-1zM72 784h2v1h-2zM75 784h3v1h-3zM81 784h2v1h-2zM84 784h1v1h-1zM86 784h2v1h-2zM91 784h9v1h-9zM101 784h1v1h-1zM103 784h6v1h-6zM111 784h3v1h-3zM116 784h2v1h-2zM120 784h2v1h-2zM123 784h8v1h-8zM132 784h1v1h-1zM135 784h2v1h-2zM138 784h2v1h-2zM141 784h2v1h-2zM144 784h1v1h-1zM146 784h1v1h-1zM148 784h4v1h-4zM154 784h3v1h-3zM159 784h1v1h-1zM71 785h5v1h-5zM77 785h10v1h-10zM88 785h4v1h-4zM94 785h2v1h-2zM97 785h8v1h-8zM110 785h2v1h-2zM115 785h1v1h-1zM117 785h2v1h-2zM120 785h2v1h-2zM125 785h1v1h-1zM127 785h1v1h-1zM129 785h7v1h-7zM137 785h7v1h-7zM145 785h1v1h-1zM147 785h3v1h-3zM152 785h5v1h-5zM158 785h3v1h-3zM69 786h1v1h-1zM71 786h3v1h-3zM75 786h1v1h-1zM77 786h11v1h-11zM89 786h5v1h-5zM95 786h2v1h-2zM98 786h2v1h-2zM101 786h4v1h-4zM106 786h4v1h-4zM111 786h2v1h-2zM114 786h2v1h-2zM117 786h6v1h-6zM124 786h8v1h-8zM133 786h3v1h-3zM137 786h2v1h-2zM140 786h1v1h-1zM142 786h1v1h-1zM144 786h2v1h-2zM147 786h2v1h-2zM150 786h5v1h-5zM157 786h1v1h-1zM69 787h31v1h-31zM101 787h5v1h-5zM107 787h27v1h-27zM135 787h4v1h-4zM140 787h22v1h-22zM69 788h20v1h-20zM90 788h72v1h-72zM164 788h2v1h-2zM167 788h1v1h-1zM69 789h95v1h-95zM69 790h94v1h-94zM69 791h95v1h-95zM69 792h94v1h-94zM165 792h1v1h-1zM69 793h95v1h-95zM165 793h1v1h-1zM69 794h94v1h-94zM164 794h1v1h-1zM166 794h1v1h-1zM69 795h95v1h-95zM169 795h1v1h-1zM69 796h95v1h-95zM169 796h1v1h-1zM69 797h95v1h-95zM69 798h95v1h-95zM165 798h1v1h-1zM69 799h97v1h-97zM69 800h94v1h-94zM164 800h2v1h-2zM69 801h95v1h-95z" fill="#000"/>
<rect x="68.6" y="731.8" width="128.6" height="70.8" fill="none" stroke="#000" stroke-width="1.5"/>
<path d="M64.1 802.6H68.6M68.6 802.6v3.2M65.4 797.3H68.6M78.3 802.6v2M65.4 794.2H68.6M83.9 802.6v2M65.4 791.9H68.6M88 802.6v2M65.4 790.2H68.6M91.1 802.6v2M65.4 788.8H68.6M93.6 802.6v2M65.4 787.6H68.6M95.8 802.6v2M65.4 786.6H68.6M97.6 802.6v2M65.4 785.7H68.6M99.3 802.6v2M64.1 784.9H68.6M100.8 802.6v3.2M65.4 779.6H68.6M110.4 802.6v2M65.4 776.5H68.6M116.1 802.6v2M65.4 774.2H68.6M120.1 802.6v2M65.4 772.5H68.6M123.2 802.6v2M65.4 771.1H68.6M125.8 802.6v2M65.4 769.9H68.6M127.9 802.6v2M65.4 768.9H68.6M129.8 802.6v2M65.4 768H68.6M131.4 802.6v2M64.1 767.2H68.6M132.9 802.6v3.2M65.4 761.9H68.6M142.6 802.6v2M65.4 758.8H68.6M148.2 802.6v2M65.4 756.5H68.6M152.3 802.6v2M65.4 754.8H68.6M155.4 802.6v2M65.4 753.4H68.6M157.9 802.6v2M65.4 752.2H68.6M160.1 802.6v2M65.4 751.2H68.6M161.9 802.6v2M65.4 750.3H68.6M163.6 802.6v2M64.1 749.5H68.6M165 802.6v3.2M65.4 744.2H68.6M174.7 802.6v2M65.4 741.1H68.6M180.4 802.6v2M65.4 738.8H68.6M184.4 802.6v2M65.4 737.1H68.6M187.5 802.6v2M65.4 735.7H68.6M190.1 802.6v2M65.4 734.5H68.6M192.2 802.6v2M65.4 733.5H68.6M194.1 802.6v2M65.4 732.6H68.6M195.7 802.6v2" stroke="#111" stroke-width="1.1"/>
<path d="M107 731.8V802.6" stroke="#000" stroke-width="1"/>
<path d="M161 789.2H197.2" stroke="#000" stroke-width="1"/>
<path d="M136 846h1v1h-1zM99 849h1v1h-1zM110 851h1v1h-1zM156 852h1v1h-1zM120 853h1v1h-1zM144 856h1v1h-1zM98 857h1v1h-1zM146 857h1v1h-1zM143 858h1v1h-1zM131 859h1v1h-1zM151 859h1v1h-1zM157 859h1v1h-1zM89 860h1v1h-1zM127 861h2v1h-2zM113 862h1v1h-1zM151 862h1v1h-1zM156 862h1v1h-1zM91 864h1v1h-1zM97 864h1v1h-1zM135 864h1v1h-1zM152 864h1v1h-1zM96 865h1v1h-1zM114 865h1v1h-1zM125 865h1v1h-1zM173 865h1v1h-1zM118 866h1v1h-1zM129 867h1v1h-1zM168 867h1v1h-1zM102 868h1v1h-1zM81 870h1v1h-1zM118 870h1v1h-1zM135 870h1v1h-1zM75 871h1v1h-1zM79 871h1v1h-1zM134 871h1v1h-1zM145 871h1v1h-1zM80 872h1v1h-1zM100 872h1v1h-1zM112 872h1v1h-1zM135 872h1v1h-1zM159 872h1v1h-1zM73 873h1v1h-1zM77 873h1v1h-1zM79 873h2v1h-2zM84 873h2v1h-2zM93 873h1v1h-1zM96 873h1v1h-1zM100 873h1v1h-1zM102 873h2v1h-2zM108 873h1v1h-1zM110 873h1v1h-1zM112 873h1v1h-1zM115 873h1v1h-1zM121 873h1v1h-1zM127 873h2v1h-2zM130 873h2v1h-2zM137 873h1v1h-1zM144 873h1v1h-1zM153 873h1v1h-1zM157 873h1v1h-1zM166 873h1v1h-1zM73 874h1v1h-1zM75 874h5v1h-5zM82 874h1v1h-1zM84 874h1v1h-1zM91 874h1v1h-1zM93 874h3v1h-3zM97 874h2v1h-2zM100 874h2v1h-2zM104 874h2v1h-2zM112 874h2v1h-2zM115 874h2v1h-2zM120 874h1v1h-1zM125 874h1v1h-1zM129 874h1v1h-1zM133 874h1v1h-1zM138 874h1v1h-1zM140 874h1v1h-1zM142 874h1v1h-1zM144 874h1v1h-1zM147 874h1v1h-1zM152 874h1v1h-1zM156 874h1v1h-1zM161 874h1v1h-1zM164 874h1v1h-1zM72 875h4v1h-4zM77 875h9v1h-9zM89 875h1v1h-1zM91 875h1v1h-1zM93 875h2v1h-2zM98 875h1v1h-1zM100 875h1v1h-1zM102 875h1v1h-1zM104 875h3v1h-3zM108 875h3v1h-3zM112 875h6v1h-6zM119 875h3v1h-3zM123 875h4v1h-4zM128 875h4v1h-4zM133 875h1v1h-1zM135 875h3v1h-3zM139 875h3v1h-3zM143 875h1v1h-1zM148 875h3v1h-3zM152 875h1v1h-1zM155 875h1v1h-1zM158 875h6v1h-6zM165 875h1v1h-1zM72 876h8v1h-8zM81 876h12v1h-12zM94 876h13v1h-13zM108 876h23v1h-23zM133 876h32v1h-32zM72 877h93v1h-93zM166 877h1v1h-1zM72 878h95v1h-95zM72 879h93v1h-93zM166 879h2v1h-2zM72 880h95v1h-95zM72 881h94v1h-94zM167 881h1v1h-1zM169 881h1v1h-1zM72 882h93v1h-93zM72 883h95v1h-95zM168 883h1v1h-1zM72 884h94v1h-94zM72 885h95v1h-95zM72 886h94v1h-94zM167 886h1v1h-1zM169 886h1v1h-1zM72 887h95v1h-95zM72 888h95v1h-95zM72 889h95v1h-95zM168 889h1v1h-1zM72 890h96v1h-96zM169 890h1v1h-1z" fill="#000"/>
<rect x="71.6" y="820" width="128" height="71.4" fill="none" stroke="#000" stroke-width="1.5"/>
<path d="M67.1 891.4H71.6M71.6 891.4v3.2M68.4 886H71.6M81.2 891.4v2M68.4 882.9H71.6M86.9 891.4v2M68.4 880.7H71.6M90.9 891.4v2M68.4 878.9H71.6M94 891.4v2M68.4 877.5H71.6M96.5 891.4v2M68.4 876.3H71.6M98.6 891.4v2M68.4 875.3H71.6M100.5 891.4v2M68.4 874.4H71.6M102.1 891.4v2M67.1 873.5H71.6M103.6 891.4v3.2M68.4 868.2H71.6M113.2 891.4v2M68.4 865H71.6M118.9 891.4v2M68.4 862.8H71.6M122.9 891.4v2M68.4 861.1H71.6M126 891.4v2M68.4 859.7H71.6M128.5 891.4v2M68.4 858.5H71.6M130.6 891.4v2M68.4 857.4H71.6M132.5 891.4v2M68.4 856.5H71.6M134.1 891.4v2M67.1 855.7H71.6M135.6 891.4v3.2M68.4 850.3H71.6M145.2 891.4v2M68.4 847.2H71.6M150.9 891.4v2M68.4 845H71.6M154.9 891.4v2M68.4 843.2H71.6M158 891.4v2M68.4 841.8H71.6M160.5 891.4v2M68.4 840.6H71.6M162.6 891.4v2M68.4 839.6H71.6M164.5 891.4v2M68.4 838.7H71.6M166.1 891.4v2M67.1 837.9H71.6M167.6 891.4v3.2M68.4 832.5H71.6M177.2 891.4v2M68.4 829.3H71.6M182.9 891.4v2M68.4 827.1H71.6M186.9 891.4v2M68.4 825.4H71.6M190 891.4v2M68.4 824H71.6M192.5 891.4v2M68.4 822.8H71.6M194.6 891.4v2M68.4 821.7H71.6M196.5 891.4v2M68.4 820.8H71.6M198.1 891.4v2" stroke="#111" stroke-width="1.1"/>
<path d="M110.2 820V891.4" stroke="#000" stroke-width="1"/>
<path d="M71.6 877.3H199.6" stroke="#000" stroke-width="1"/>
<path d="M296 603h1v1h-1zM329 603h1v1h-1zM337 604h1v1h-1zM306 606h1v1h-1zM319 607h1v1h-1zM326 607h1v1h-1zM332 607h1v1h-1zM340 608h1v1h-1zM307 609h1v1h-1zM343 609h1v1h-1zM281 610h1v1h-1zM297 610h1v1h-1zM320 610h1v1h-1zM287 611h1v1h-1zM291 611h1v1h-1zM293 611h1v1h-1zM315 611h1v1h-1zM319 611h1v1h-1zM351 612h1v1h-1zM330 613h1v1h-1zM283 614h1v1h-1zM298 614h1v1h-1zM313 614h1v1h-1zM344 614h1v1h-1zM290 615h1v1h-1zM297 615h1v1h-1zM315 615h1v1h-1zM319 615h2v1h-2zM327 615h1v1h-1zM332 615h1v1h-1zM347 615h1v1h-1zM283 616h1v1h-1zM289 616h2v1h-2zM292 616h1v1h-1zM297 616h1v1h-1zM302 616h3v1h-3zM308 616h1v1h-1zM316 616h1v1h-1zM319 616h1v1h-1zM325 616h1v1h-1zM327 616h1v1h-1zM333 616h2v1h-2zM336 616h1v1h-1zM339 616h1v1h-1zM342 616h1v1h-1zM362 616h1v1h-1zM285 617h2v1h-2zM289 617h1v1h-1zM291 617h2v1h-2zM300 617h2v1h-2zM303 617h2v1h-2zM306 617h2v1h-2zM311 617h1v1h-1zM313 617h2v1h-2zM317 617h2v1h-2zM320 617h3v1h-3zM331 617h1v1h-1zM334 617h1v1h-1zM336 617h3v1h-3zM348 617h1v1h-1zM281 618h2v1h-2zM287 618h1v1h-1zM293 618h1v1h-1zM295 618h1v1h-1zM298 618h4v1h-4zM304 618h2v1h-2zM307 618h1v1h-1zM309 618h1v1h-1zM311 618h4v1h-4zM316 618h1v1h-1zM319 618h1v1h-1zM323 618h5v1h-5zM330 618h1v1h-1zM332 618h5v1h-5zM338 618h2v1h-2zM341 618h1v1h-1zM343 618h1v1h-1zM351 618h2v1h-2zM281 619h3v1h-3zM286 619h6v1h-6zM293 619h5v1h-5zM299 619h2v1h-2zM302 619h12v1h-12zM315 619h2v1h-2zM318 619h2v1h-2zM321 619h5v1h-5zM327 619h6v1h-6zM336 619h8v1h-8zM345 619h1v1h-1zM354 619h1v1h-1zM282 620h13v1h-13zM296 620h17v1h-17zM315 620h1v1h-1zM317 620h3v1h-3zM321 620h17v1h-17zM339 620h3v1h-3zM345 620h2v1h-2zM348 620h1v1h-1zM352 620h1v1h-1zM355 620h1v1h-1zM359 620h1v1h-1zM280 621h65v1h-65zM347 621h1v1h-1zM352 621h1v1h-1zM358 621h1v1h-1zM363 621h1v1h-1zM369 621h1v1h-1zM280 622h17v1h-17zM298 622h44v1h-44zM343 622h1v1h-1zM346 622h1v1h-1zM348 622h1v1h-1zM353 622h2v1h-2zM356 622h1v1h-1zM366 622h1v1h-1zM280 623h56v1h-56zM337 623h9v1h-9zM350 623h1v1h-1zM355 623h1v1h-1zM366 623h1v1h-1zM280 624h64v1h-64zM354 624h2v1h-2zM357 624h1v1h-1zM359 624h1v1h-1zM361 624h1v1h-1zM363 624h1v1h-1zM280 625h63v1h-63zM344 625h2v1h-2zM347 625h2v1h-2zM365 625h1v1h-1zM280 626h13v1h-13zM294 626h52v1h-52zM349 626h2v1h-2zM361 626h1v1h-1zM280 627h62v1h-62zM343 627h2v1h-2zM351 627h1v1h-1zM354 627h1v1h-1zM356 627h1v1h-1zM360 627h1v1h-1zM280 628h66v1h-66zM351 628h1v1h-1zM355 628h2v1h-2zM366 628h1v1h-1zM280 629h60v1h-60zM341 629h5v1h-5zM352 629h1v1h-1zM354 629h1v1h-1zM361 629h1v1h-1zM370 629h1v1h-1zM280 630h64v1h-64zM345 630h1v1h-1zM348 630h2v1h-2zM351 630h1v1h-1zM355 630h2v1h-2zM359 630h1v1h-1zM361 630h1v1h-1zM281 631h61v1h-61zM343 631h4v1h-4zM355 631h1v1h-1zM357 631h2v1h-2zM280 632h58v1h-58zM339 632h5v1h-5zM347 632h1v1h-1zM349 632h1v1h-1zM359 632h1v1h-1zM363 632h1v1h-1z" fill="#000"/>
<rect x="279.8" y="558.3" width="130.6" height="75.2" fill="none" stroke="#000" stroke-width="1.5"/>
<path d="M275.3 633.5H279.8M279.8 633.5v3.2M276.6 627.8H279.8M289.6 633.5v2M276.6 624.5H279.8M295.4 633.5v2M276.6 622.2H279.8M299.5 633.5v2M276.6 620.4H279.8M302.6 633.5v2M276.6 618.9H279.8M305.2 633.5v2M276.6 617.6H279.8M307.4 633.5v2M276.6 616.5H279.8M309.3 633.5v2M276.6 615.6H279.8M311 633.5v2M275.3 614.7H279.8M312.4 633.5v3.2M276.6 609H279.8M322.3 633.5v2M276.6 605.7H279.8M328 633.5v2M276.6 603.4H279.8M332.1 633.5v2M276.6 601.6H279.8M335.3 633.5v2M276.6 600.1H279.8M337.9 633.5v2M276.6 598.8H279.8M340 633.5v2M276.6 597.7H279.8M341.9 633.5v2M276.6 596.8H279.8M343.6 633.5v2M275.3 595.9H279.8M345.1 633.5v3.2M276.6 590.2H279.8M354.9 633.5v2M276.6 586.9H279.8M360.7 633.5v2M276.6 584.6H279.8M364.8 633.5v2M276.6 582.8H279.8M367.9 633.5v2M276.6 581.3H279.8M370.5 633.5v2M276.6 580H279.8M372.7 633.5v2M276.6 578.9H279.8M374.6 633.5v2M276.6 578H279.8M376.3 633.5v2M275.3 577.1H279.8M377.8 633.5v3.2M276.6 571.4H279.8M387.6 633.5v2M276.6 568.1H279.8M393.3 633.5v2M276.6 565.8H279.8M397.4 633.5v2M276.6 564H279.8M400.6 633.5v2M276.6 562.5H279.8M403.2 633.5v2M276.6 561.2H279.8M405.3 633.5v2M276.6 560.1H279.8M407.2 633.5v2M276.6 559.2H279.8M408.9 633.5v2" stroke="#111" stroke-width="1.1"/>
<path d="M318.7 558.3V633.5" stroke="#000" stroke-width="1"/>
<path d="M318.7 620.2H410.4" stroke="#000" stroke-width="1"/>
<path d="M305 652h1v1h-1zM328 652h1v1h-1zM317 653h1v1h-1zM332 654h1v1h-1zM330 655h1v1h-1zM336 655h1v1h-1zM375 655h1v1h-1zM298 656h1v1h-1zM311 656h1v1h-1zM295 657h1v1h-1zM317 657h1v1h-1zM321 657h1v1h-1zM286 658h1v1h-1zM294 658h1v1h-1zM310 658h1v1h-1zM317 658h2v1h-2zM323 658h1v1h-1zM304 659h1v1h-1zM307 659h1v1h-1zM309 659h2v1h-2zM318 659h1v1h-1zM322 659h1v1h-1zM332 659h1v1h-1zM342 659h1v1h-1zM353 659h1v1h-1zM283 660h1v1h-1zM303 660h1v1h-1zM306 660h2v1h-2zM313 660h4v1h-4zM318 660h2v1h-2zM324 660h3v1h-3zM333 660h1v1h-1zM280 661h1v1h-1zM291 661h1v1h-1zM295 661h3v1h-3zM302 661h5v1h-5zM308 661h2v1h-2zM312 661h3v1h-3zM318 661h1v1h-1zM324 661h1v1h-1zM330 661h2v1h-2zM340 661h1v1h-1zM342 661h1v1h-1zM285 662h3v1h-3zM289 662h1v1h-1zM292 662h1v1h-1zM296 662h2v1h-2zM299 662h5v1h-5zM306 662h1v1h-1zM308 662h1v1h-1zM311 662h7v1h-7zM319 662h2v1h-2zM322 662h1v1h-1zM324 662h2v1h-2zM327 662h1v1h-1zM329 662h1v1h-1zM331 662h2v1h-2zM335 662h1v1h-1zM338 662h1v1h-1zM343 662h1v1h-1zM346 662h1v1h-1zM350 662h1v1h-1zM280 663h1v1h-1zM289 663h1v1h-1zM291 663h4v1h-4zM297 663h5v1h-5zM303 663h1v1h-1zM305 663h3v1h-3zM309 663h5v1h-5zM315 663h2v1h-2zM318 663h1v1h-1zM320 663h3v1h-3zM324 663h2v1h-2zM327 663h2v1h-2zM331 663h2v1h-2zM335 663h2v1h-2zM340 663h1v1h-1zM346 663h1v1h-1zM357 663h1v1h-1zM280 664h2v1h-2zM286 664h1v1h-1zM289 664h6v1h-6zM296 664h1v1h-1zM298 664h24v1h-24zM323 664h8v1h-8zM332 664h3v1h-3zM336 664h1v1h-1zM340 664h2v1h-2zM343 664h1v1h-1zM346 664h1v1h-1zM281 665h1v1h-1zM283 665h2v1h-2zM286 665h5v1h-5zM293 665h41v1h-41zM336 665h3v1h-3zM341 665h3v1h-3zM281 666h2v1h-2zM285 666h1v1h-1zM288 666h1v1h-1zM290 666h43v1h-43zM334 666h1v1h-1zM337 666h5v1h-5zM343 666h1v1h-1zM347 666h2v1h-2zM283 667h1v1h-1zM285 667h2v1h-2zM289 667h53v1h-53zM343 667h1v1h-1zM345 667h1v1h-1zM347 667h2v1h-2zM350 667h1v1h-1zM281 668h5v1h-5zM287 668h46v1h-46zM334 668h9v1h-9zM344 668h1v1h-1zM346 668h1v1h-1zM348 668h1v1h-1zM354 668h1v1h-1zM281 669h66v1h-66zM349 669h1v1h-1zM353 669h1v1h-1zM355 669h1v1h-1zM364 669h1v1h-1zM280 670h64v1h-64zM345 670h6v1h-6zM352 670h5v1h-5zM280 671h68v1h-68zM349 671h3v1h-3zM358 671h1v1h-1zM380 671h1v1h-1zM280 672h60v1h-60zM341 672h10v1h-10zM352 672h2v1h-2zM355 672h1v1h-1zM361 672h1v1h-1zM280 673h61v1h-61zM342 673h6v1h-6zM349 673h1v1h-1zM351 673h1v1h-1zM353 673h1v1h-1zM355 673h1v1h-1zM358 673h1v1h-1zM361 673h1v1h-1zM363 673h1v1h-1zM280 674h5v1h-5zM286 674h58v1h-58zM345 674h4v1h-4zM350 674h2v1h-2zM357 674h1v1h-1zM361 674h1v1h-1zM280 675h72v1h-72zM354 675h1v1h-1zM357 675h1v1h-1zM360 675h1v1h-1zM280 676h67v1h-67zM348 676h4v1h-4zM368 676h1v1h-1zM280 677h68v1h-68zM349 677h1v1h-1zM352 677h1v1h-1zM280 678h63v1h-63zM344 678h2v1h-2zM347 678h2v1h-2zM350 678h2v1h-2zM355 678h2v1h-2zM280 679h1v1h-1zM283 679h57v1h-57zM341 679h9v1h-9zM358 679h1v1h-1zM280 680h3v1h-3zM284 680h1v1h-1zM286 680h62v1h-62zM349 680h2v1h-2zM352 680h1v1h-1zM282 681h1v1h-1zM284 681h57v1h-57zM342 681h1v1h-1zM344 681h1v1h-1zM346 681h3v1h-3zM352 681h1v1h-1zM354 681h1v1h-1zM280 682h18v1h-18zM299 682h42v1h-42zM343 682h1v1h-1zM347 682h3v1h-3zM353 682h1v1h-1zM366 682h1v1h-1zM280 683h1v1h-1zM282 683h1v1h-1zM285 683h47v1h-47zM333 683h7v1h-7zM342 683h6v1h-6zM350 683h1v1h-1zM357 683h1v1h-1zM359 683h1v1h-1zM386 683h1v1h-1zM284 684h2v1h-2zM287 684h46v1h-46zM334 684h2v1h-2zM337 684h3v1h-3zM341 684h2v1h-2zM344 684h1v1h-1zM346 684h1v1h-1zM352 684h1v1h-1zM280 685h3v1h-3zM284 685h2v1h-2zM288 685h1v1h-1zM292 685h1v1h-1zM294 685h32v1h-32zM327 685h3v1h-3zM331 685h9v1h-9zM341 685h1v1h-1zM345 685h1v1h-1zM352 685h2v1h-2zM356 685h1v1h-1zM282 686h1v1h-1zM289 686h1v1h-1zM291 686h2v1h-2zM294 686h1v1h-1zM296 686h1v1h-1zM299 686h5v1h-5zM305 686h13v1h-13zM319 686h10v1h-10zM330 686h1v1h-1zM332 686h1v1h-1zM336 686h4v1h-4zM342 686h2v1h-2zM349 686h1v1h-1zM280 687h1v1h-1zM282 687h1v1h-1zM286 687h1v1h-1zM288 687h3v1h-3zM292 687h4v1h-4zM297 687h3v1h-3zM301 687h1v1h-1zM303 687h5v1h-5zM309 687h4v1h-4zM314 687h11v1h-11zM326 687h3v1h-3zM330 687h2v1h-2zM333 687h3v1h-3zM342 687h2v1h-2zM346 687h1v1h-1zM282 688h2v1h-2zM285 688h2v1h-2zM288 688h1v1h-1zM294 688h1v1h-1zM297 688h1v1h-1zM299 688h2v1h-2zM302 688h1v1h-1zM304 688h2v1h-2zM307 688h13v1h-13zM321 688h4v1h-4zM327 688h1v1h-1zM335 688h5v1h-5zM344 688h1v1h-1zM347 688h1v1h-1zM353 688h1v1h-1zM283 689h3v1h-3zM287 689h1v1h-1zM289 689h2v1h-2zM296 689h2v1h-2zM301 689h3v1h-3zM305 689h2v1h-2zM308 689h1v1h-1zM310 689h1v1h-1zM312 689h5v1h-5zM321 689h1v1h-1zM324 689h2v1h-2zM328 689h2v1h-2zM332 689h1v1h-1zM347 689h1v1h-1zM280 690h1v1h-1zM287 690h2v1h-2zM290 690h2v1h-2zM293 690h1v1h-1zM298 690h1v1h-1zM305 690h1v1h-1zM307 690h1v1h-1zM309 690h2v1h-2zM319 690h1v1h-1zM321 690h2v1h-2zM326 690h1v1h-1zM328 690h1v1h-1zM331 690h1v1h-1zM336 690h1v1h-1zM348 690h1v1h-1zM360 690h1v1h-1zM288 691h2v1h-2zM296 691h2v1h-2zM299 691h1v1h-1zM302 691h1v1h-1zM305 691h1v1h-1zM307 691h4v1h-4zM312 691h1v1h-1zM314 691h1v1h-1zM326 691h1v1h-1zM346 691h1v1h-1zM349 691h1v1h-1zM287 692h2v1h-2zM290 692h1v1h-1zM295 692h1v1h-1zM300 692h1v1h-1zM303 692h1v1h-1zM311 692h1v1h-1zM314 692h1v1h-1zM323 692h1v1h-1zM329 692h1v1h-1zM284 693h2v1h-2zM289 693h1v1h-1zM295 693h1v1h-1zM303 693h2v1h-2zM309 693h1v1h-1zM314 693h1v1h-1zM289 694h1v1h-1zM292 694h1v1h-1zM295 694h1v1h-1zM299 694h3v1h-3zM318 694h1v1h-1zM320 694h1v1h-1zM324 694h1v1h-1zM283 695h1v1h-1zM286 695h1v1h-1zM289 695h1v1h-1zM296 695h1v1h-1zM299 695h1v1h-1zM301 695h1v1h-1zM309 695h1v1h-1zM315 695h1v1h-1zM324 695h1v1h-1zM330 695h1v1h-1zM281 696h1v1h-1zM293 696h1v1h-1zM295 696h1v1h-1zM297 696h1v1h-1zM302 696h1v1h-1zM311 696h1v1h-1zM319 696h1v1h-1zM332 696h1v1h-1zM282 697h1v1h-1zM287 697h2v1h-2zM291 697h1v1h-1zM299 697h1v1h-1zM301 697h4v1h-4zM309 697h2v1h-2zM357 697h1v1h-1zM281 698h2v1h-2zM287 698h1v1h-1zM291 698h1v1h-1zM295 698h1v1h-1zM300 698h3v1h-3zM310 698h1v1h-1zM280 699h2v1h-2zM284 699h1v1h-1zM286 699h1v1h-1zM291 699h1v1h-1zM302 699h1v1h-1zM305 699h1v1h-1zM313 699h1v1h-1zM287 700h1v1h-1zM292 700h1v1h-1zM302 700h2v1h-2zM306 700h1v1h-1zM309 700h1v1h-1zM312 700h1v1h-1zM293 701h2v1h-2zM301 701h1v1h-1zM282 702h1v1h-1zM288 702h1v1h-1zM291 702h1v1h-1zM295 702h1v1h-1zM298 702h1v1h-1zM300 702h7v1h-7zM308 702h1v1h-1zM388 702h1v1h-1zM280 703h1v1h-1zM292 703h2v1h-2zM295 703h2v1h-2zM298 703h3v1h-3zM303 703h1v1h-1zM307 703h1v1h-1zM312 703h1v1h-1zM386 703h1v1h-1zM286 704h2v1h-2zM295 704h1v1h-1zM297 704h1v1h-1zM299 704h1v1h-1zM305 704h2v1h-2zM284 705h1v1h-1zM288 705h2v1h-2zM294 705h1v1h-1zM296 705h1v1h-1zM310 705h1v1h-1zM287 706h1v1h-1zM289 706h6v1h-6zM297 706h1v1h-1zM306 706h1v1h-1zM310 706h1v1h-1zM314 706h1v1h-1zM281 707h3v1h-3zM285 707h1v1h-1zM289 707h1v1h-1zM291 707h2v1h-2zM295 707h1v1h-1zM300 707h2v1h-2zM304 707h1v1h-1zM307 707h1v1h-1zM313 707h1v1h-1zM317 707h1v1h-1zM281 708h1v1h-1zM283 708h1v1h-1zM285 708h4v1h-4zM292 708h1v1h-1zM294 708h1v1h-1zM297 708h5v1h-5zM303 708h2v1h-2zM281 709h5v1h-5zM287 709h1v1h-1zM290 709h1v1h-1zM292 709h1v1h-1zM295 709h1v1h-1zM297 709h2v1h-2zM300 709h3v1h-3zM304 709h1v1h-1zM307 709h1v1h-1zM313 709h1v1h-1zM332 709h1v1h-1zM282 710h7v1h-7zM290 710h10v1h-10zM303 710h1v1h-1zM305 710h6v1h-6zM316 710h1v1h-1zM281 711h14v1h-14zM296 711h8v1h-8zM305 711h1v1h-1zM307 711h1v1h-1zM314 711h2v1h-2zM280 712h1v1h-1zM282 712h13v1h-13zM296 712h5v1h-5zM302 712h2v1h-2zM305 712h1v1h-1zM308 712h1v1h-1zM280 713h4v1h-4zM285 713h2v1h-2zM289 713h4v1h-4zM294 713h11v1h-11zM309 713h1v1h-1zM311 713h1v1h-1zM313 713h1v1h-1zM315 713h1v1h-1zM280 714h4v1h-4zM285 714h4v1h-4zM290 714h1v1h-1zM292 714h2v1h-2zM295 714h4v1h-4zM301 714h1v1h-1zM309 714h1v1h-1zM314 714h1v1h-1zM280 715h23v1h-23zM304 715h1v1h-1zM306 715h1v1h-1zM309 715h2v1h-2zM312 715h1v1h-1zM280 716h1v1h-1zM282 716h4v1h-4zM288 716h8v1h-8zM297 716h1v1h-1zM299 716h2v1h-2zM302 716h2v1h-2zM305 716h1v1h-1zM307 716h4v1h-4zM280 717h24v1h-24zM306 717h1v1h-1zM308 717h4v1h-4zM280 718h24v1h-24zM305 718h1v1h-1zM307 718h2v1h-2zM317 718h1v1h-1zM360 718h1v1h-1zM280 719h5v1h-5zM286 719h18v1h-18zM305 719h1v1h-1zM280 720h1v1h-1zM282 720h4v1h-4zM288 720h7v1h-7zM296 720h3v1h-3zM301 720h1v1h-1zM303 720h1v1h-1zM306 720h5v1h-5zM281 721h6v1h-6zM288 721h6v1h-6zM296 721h6v1h-6zM305 721h1v1h-1zM307 721h3v1h-3zM312 721h1v1h-1zM323 721h1v1h-1z" fill="#000"/>
<rect x="279.8" y="648.3" width="130.6" height="74.2" fill="none" stroke="#000" stroke-width="1.5"/>
<path d="M275.3 722.5H279.8M279.8 722.5v3.2M276.6 716.9H279.8M289.6 722.5v2M276.6 713.6H279.8M295.4 722.5v2M276.6 711.3H279.8M299.5 722.5v2M276.6 709.5H279.8M302.6 722.5v2M276.6 708.1H279.8M305.2 722.5v2M276.6 706.8H279.8M307.4 722.5v2M276.6 705.7H279.8M309.3 722.5v2M276.6 704.8H279.8M311 722.5v2M275.3 704H279.8M312.4 722.5v3.2M276.6 698.4H279.8M322.3 722.5v2M276.6 695.1H279.8M328 722.5v2M276.6 692.8H279.8M332.1 722.5v2M276.6 691H279.8M335.3 722.5v2M276.6 689.5H279.8M337.9 722.5v2M276.6 688.3H279.8M340 722.5v2M276.6 687.2H279.8M341.9 722.5v2M276.6 686.2H279.8M343.6 722.5v2M275.3 685.4H279.8M345.1 722.5v3.2M276.6 679.8H279.8M354.9 722.5v2M276.6 676.5H279.8M360.7 722.5v2M276.6 674.2H279.8M364.8 722.5v2M276.6 672.4H279.8M367.9 722.5v2M276.6 671H279.8M370.5 722.5v2M276.6 669.7H279.8M372.7 722.5v2M276.6 668.6H279.8M374.6 722.5v2M276.6 667.7H279.8M376.3 722.5v2M275.3 666.8H279.8M377.8 722.5v3.2M276.6 661.3H279.8M387.6 722.5v2M276.6 658H279.8M393.3 722.5v2M276.6 655.7H279.8M397.4 722.5v2M276.6 653.9H279.8M400.6 722.5v2M276.6 652.4H279.8M403.2 722.5v2M276.6 651.2H279.8M405.3 722.5v2M276.6 650.1H279.8M407.2 722.5v2M276.6 649.1H279.8M408.9 722.5v2" stroke="#111" stroke-width="1.1"/>
<path d="M318.7 648.3V722.5" stroke="#000" stroke-width="1"/>
<path d="M279.8 709.2H410.4" stroke="#000" stroke-width="1"/>
<path d="M298 740h1v1h-1zM316 748h1v1h-1zM299 749h1v1h-1zM298 750h1v1h-1zM304 750h1v1h-1zM315 750h1v1h-1zM281 751h1v1h-1zM288 751h1v1h-1zM291 751h1v1h-1zM300 751h2v1h-2zM304 751h1v1h-1zM311 751h1v1h-1zM329 751h1v1h-1zM290 752h1v1h-1zM296 752h2v1h-2zM301 752h2v1h-2zM310 752h2v1h-2zM314 752h1v1h-1zM321 752h1v1h-1zM335 752h1v1h-1zM337 752h1v1h-1zM281 753h1v1h-1zM287 753h1v1h-1zM289 753h2v1h-2zM293 753h1v1h-1zM304 753h2v1h-2zM309 753h1v1h-1zM311 753h1v1h-1zM317 753h2v1h-2zM320 753h1v1h-1zM323 753h1v1h-1zM326 753h1v1h-1zM332 753h1v1h-1zM340 753h1v1h-1zM344 753h1v1h-1zM347 753h1v1h-1zM282 754h1v1h-1zM285 754h1v1h-1zM288 754h2v1h-2zM297 754h3v1h-3zM303 754h1v1h-1zM305 754h2v1h-2zM308 754h2v1h-2zM313 754h1v1h-1zM316 754h1v1h-1zM319 754h2v1h-2zM322 754h1v1h-1zM329 754h1v1h-1zM331 754h1v1h-1zM336 754h1v1h-1zM340 754h2v1h-2zM343 754h3v1h-3zM355 754h1v1h-1zM282 755h2v1h-2zM286 755h6v1h-6zM293 755h5v1h-5zM299 755h2v1h-2zM305 755h3v1h-3zM310 755h1v1h-1zM314 755h3v1h-3zM322 755h1v1h-1zM324 755h1v1h-1zM326 755h1v1h-1zM329 755h1v1h-1zM332 755h1v1h-1zM334 755h1v1h-1zM338 755h1v1h-1zM341 755h2v1h-2zM344 755h1v1h-1zM353 755h1v1h-1zM281 756h3v1h-3zM285 756h2v1h-2zM288 756h1v1h-1zM290 756h3v1h-3zM294 756h6v1h-6zM301 756h4v1h-4zM306 756h1v1h-1zM308 756h1v1h-1zM311 756h1v1h-1zM314 756h4v1h-4zM320 756h5v1h-5zM328 756h1v1h-1zM331 756h3v1h-3zM335 756h1v1h-1zM337 756h1v1h-1zM344 756h2v1h-2zM376 756h1v1h-1zM280 757h1v1h-1zM282 757h4v1h-4zM287 757h2v1h-2zM291 757h3v1h-3zM296 757h7v1h-7zM304 757h6v1h-6zM311 757h3v1h-3zM315 757h3v1h-3zM319 757h7v1h-7zM327 757h4v1h-4zM332 757h7v1h-7zM340 757h2v1h-2zM343 757h2v1h-2zM346 757h1v1h-1zM280 758h4v1h-4zM286 758h2v1h-2zM289 758h1v1h-1zM291 758h6v1h-6zM299 758h24v1h-24zM324 758h3v1h-3zM328 758h7v1h-7zM336 758h3v1h-3zM341 758h2v1h-2zM350 758h1v1h-1zM354 758h2v1h-2zM358 758h1v1h-1zM280 759h11v1h-11zM292 759h1v1h-1zM294 759h16v1h-16zM311 759h25v1h-25zM337 759h3v1h-3zM341 759h1v1h-1zM343 759h5v1h-5zM352 759h2v1h-2zM280 760h68v1h-68zM361 760h1v1h-1zM367 760h1v1h-1zM280 761h64v1h-64zM345 761h1v1h-1zM348 761h1v1h-1zM351 761h4v1h-4zM357 761h1v1h-1zM373 761h1v1h-1zM280 762h46v1h-46zM327 762h17v1h-17zM345 762h7v1h-7zM353 762h1v1h-1zM280 763h50v1h-50zM331 763h19v1h-19zM351 763h1v1h-1zM354 763h1v1h-1zM356 763h2v1h-2zM280 764h62v1h-62zM343 764h8v1h-8zM352 764h1v1h-1zM355 764h1v1h-1zM358 764h1v1h-1zM280 765h70v1h-70zM352 765h2v1h-2zM280 766h67v1h-67zM349 766h6v1h-6zM356 766h1v1h-1zM358 766h1v1h-1zM360 766h1v1h-1zM363 766h1v1h-1zM280 767h64v1h-64zM345 767h3v1h-3zM349 767h1v1h-1zM353 767h1v1h-1zM355 767h3v1h-3zM361 767h1v1h-1zM280 768h71v1h-71zM352 768h5v1h-5zM280 769h69v1h-69zM351 769h1v1h-1zM353 769h4v1h-4zM280 770h72v1h-72zM353 770h1v1h-1zM355 770h1v1h-1zM357 770h1v1h-1zM361 770h3v1h-3zM280 771h72v1h-72zM354 771h1v1h-1zM360 771h1v1h-1zM280 772h67v1h-67zM349 772h8v1h-8zM358 772h1v1h-1zM280 773h63v1h-63zM344 773h6v1h-6zM351 773h4v1h-4zM356 773h1v1h-1zM361 773h1v1h-1zM280 774h65v1h-65zM346 774h5v1h-5zM352 774h3v1h-3zM356 774h1v1h-1zM358 774h1v1h-1zM361 774h1v1h-1zM367 774h1v1h-1zM280 775h75v1h-75zM280 776h65v1h-65zM346 776h1v1h-1zM348 776h3v1h-3zM352 776h1v1h-1zM359 776h1v1h-1zM280 777h72v1h-72zM354 777h2v1h-2zM357 777h1v1h-1zM360 777h1v1h-1zM280 778h70v1h-70zM351 778h2v1h-2zM354 778h3v1h-3zM358 778h1v1h-1zM360 778h1v1h-1zM385 778h1v1h-1zM280 779h66v1h-66zM347 779h1v1h-1zM349 779h2v1h-2zM352 779h4v1h-4zM359 779h1v1h-1zM280 780h65v1h-65zM346 780h3v1h-3zM350 780h3v1h-3zM356 780h1v1h-1zM280 781h70v1h-70zM351 781h1v1h-1zM353 781h1v1h-1zM355 781h1v1h-1zM358 781h1v1h-1zM365 781h1v1h-1zM280 782h65v1h-65zM346 782h3v1h-3zM351 782h2v1h-2zM280 783h64v1h-64zM345 783h9v1h-9zM360 783h1v1h-1zM280 784h72v1h-72zM353 784h3v1h-3zM280 785h71v1h-71zM352 785h5v1h-5zM358 785h1v1h-1zM361 785h1v1h-1zM280 786h63v1h-63zM344 786h3v1h-3zM348 786h4v1h-4zM358 786h1v1h-1zM280 787h64v1h-64zM345 787h2v1h-2zM348 787h2v1h-2zM351 787h1v1h-1zM354 787h1v1h-1zM357 787h1v1h-1zM359 787h1v1h-1zM280 788h3v1h-3zM284 788h66v1h-66zM351 788h2v1h-2zM354 788h2v1h-2zM280 789h3v1h-3zM284 789h62v1h-62zM348 789h1v1h-1zM350 789h2v1h-2zM353 789h1v1h-1zM356 789h1v1h-1zM359 789h1v1h-1zM365 789h1v1h-1zM280 790h50v1h-50zM331 790h15v1h-15zM347 790h2v1h-2zM353 790h1v1h-1zM280 791h59v1h-59zM341 791h5v1h-5zM349 791h1v1h-1zM354 791h1v1h-1zM281 792h4v1h-4zM286 792h26v1h-26zM313 792h19v1h-19zM333 792h4v1h-4zM339 792h2v1h-2zM342 792h1v1h-1zM346 792h3v1h-3zM350 792h1v1h-1zM352 792h1v1h-1zM280 793h4v1h-4zM285 793h8v1h-8zM294 793h7v1h-7zM302 793h21v1h-21zM324 793h11v1h-11zM336 793h1v1h-1zM339 793h2v1h-2zM342 793h1v1h-1zM345 793h1v1h-1zM347 793h1v1h-1zM350 793h1v1h-1zM358 793h1v1h-1zM362 793h1v1h-1zM282 794h17v1h-17zM301 794h2v1h-2zM305 794h30v1h-30zM336 794h2v1h-2zM339 794h1v1h-1zM344 794h2v1h-2zM356 794h1v1h-1zM280 795h2v1h-2zM283 795h5v1h-5zM289 795h11v1h-11zM301 795h3v1h-3zM305 795h9v1h-9zM315 795h3v1h-3zM319 795h1v1h-1zM321 795h5v1h-5zM328 795h6v1h-6zM336 795h1v1h-1zM376 795h1v1h-1zM280 796h2v1h-2zM283 796h7v1h-7zM291 796h1v1h-1zM293 796h2v1h-2zM296 796h1v1h-1zM298 796h6v1h-6zM305 796h1v1h-1zM307 796h1v1h-1zM309 796h5v1h-5zM316 796h2v1h-2zM319 796h5v1h-5zM325 796h2v1h-2zM328 796h2v1h-2zM331 796h1v1h-1zM333 796h3v1h-3zM337 796h1v1h-1zM341 796h1v1h-1zM345 796h1v1h-1zM350 796h1v1h-1zM352 796h1v1h-1zM281 797h3v1h-3zM285 797h3v1h-3zM289 797h14v1h-14zM304 797h13v1h-13zM318 797h3v1h-3zM322 797h7v1h-7zM332 797h1v1h-1zM334 797h1v1h-1zM336 797h1v1h-1zM338 797h1v1h-1zM340 797h1v1h-1zM343 797h1v1h-1zM349 797h1v1h-1zM281 798h1v1h-1zM284 798h2v1h-2zM289 798h1v1h-1zM291 798h1v1h-1zM294 798h3v1h-3zM298 798h15v1h-15zM316 798h1v1h-1zM321 798h6v1h-6zM330 798h1v1h-1zM333 798h2v1h-2zM343 798h1v1h-1zM280 799h3v1h-3zM288 799h4v1h-4zM293 799h1v1h-1zM295 799h2v1h-2zM300 799h1v1h-1zM302 799h4v1h-4zM309 799h3v1h-3zM313 799h4v1h-4zM323 799h1v1h-1zM326 799h2v1h-2zM330 799h1v1h-1zM332 799h1v1h-1zM334 799h4v1h-4zM339 799h1v1h-1zM280 800h1v1h-1zM283 800h12v1h-12zM296 800h3v1h-3zM300 800h2v1h-2zM304 800h2v1h-2zM307 800h5v1h-5zM314 800h2v1h-2zM317 800h1v1h-1zM321 800h2v1h-2zM324 800h6v1h-6zM335 800h2v1h-2zM343 800h1v1h-1zM280 801h3v1h-3zM285 801h5v1h-5zM291 801h1v1h-1zM293 801h8v1h-8zM302 801h1v1h-1zM304 801h1v1h-1zM306 801h8v1h-8zM316 801h1v1h-1zM318 801h1v1h-1zM321 801h2v1h-2zM324 801h1v1h-1zM329 801h1v1h-1zM331 801h5v1h-5zM281 802h4v1h-4zM286 802h5v1h-5zM292 802h1v1h-1zM294 802h1v1h-1zM296 802h1v1h-1zM299 802h1v1h-1zM301 802h2v1h-2zM304 802h1v1h-1zM307 802h4v1h-4zM313 802h2v1h-2zM316 802h2v1h-2zM319 802h7v1h-7zM329 802h2v1h-2zM332 802h1v1h-1zM334 802h1v1h-1zM336 802h1v1h-1zM280 803h6v1h-6zM290 803h4v1h-4zM295 803h9v1h-9zM307 803h1v1h-1zM310 803h2v1h-2zM313 803h2v1h-2zM318 803h5v1h-5zM325 803h3v1h-3zM329 803h2v1h-2zM334 803h1v1h-1zM337 803h2v1h-2zM280 804h2v1h-2zM283 804h3v1h-3zM287 804h3v1h-3zM291 804h1v1h-1zM296 804h5v1h-5zM302 804h2v1h-2zM306 804h2v1h-2zM309 804h1v1h-1zM311 804h1v1h-1zM313 804h1v1h-1zM315 804h1v1h-1zM317 804h3v1h-3zM321 804h2v1h-2zM325 804h5v1h-5zM331 804h1v1h-1zM336 804h1v1h-1zM282 805h3v1h-3zM286 805h2v1h-2zM293 805h2v1h-2zM297 805h2v1h-2zM302 805h2v1h-2zM307 805h2v1h-2zM311 805h1v1h-1zM313 805h1v1h-1zM315 805h5v1h-5zM321 805h1v1h-1zM323 805h1v1h-1zM325 805h3v1h-3zM329 805h1v1h-1zM331 805h1v1h-1zM338 805h1v1h-1z" fill="#000"/>
<rect x="279.8" y="731" width="130.6" height="75.4" fill="none" stroke="#000" stroke-width="1.5"/>
<path d="M275.3 806.4H279.8M279.8 806.4v3.2M276.6 800.7H279.8M289.6 806.4v2M276.6 797.4H279.8M295.4 806.4v2M276.6 795.1H279.8M299.5 806.4v2M276.6 793.2H279.8M302.6 806.4v2M276.6 791.7H279.8M305.2 806.4v2M276.6 790.5H279.8M307.4 806.4v2M276.6 789.4H279.8M309.3 806.4v2M276.6 788.4H279.8M311 806.4v2M275.3 787.5H279.8M312.4 806.4v3.2M276.6 781.9H279.8M322.3 806.4v2M276.6 778.6H279.8M328 806.4v2M276.6 776.2H279.8M332.1 806.4v2M276.6 774.4H279.8M335.3 806.4v2M276.6 772.9H279.8M337.9 806.4v2M276.6 771.6H279.8M340 806.4v2M276.6 770.5H279.8M341.9 806.4v2M276.6 769.6H279.8M343.6 806.4v2M275.3 768.7H279.8M345.1 806.4v3.2M276.6 763H279.8M354.9 806.4v2M276.6 759.7H279.8M360.7 806.4v2M276.6 757.4H279.8M364.8 806.4v2M276.6 755.5H279.8M367.9 806.4v2M276.6 754H279.8M370.5 806.4v2M276.6 752.8H279.8M372.7 806.4v2M276.6 751.7H279.8M374.6 806.4v2M276.6 750.7H279.8M376.3 806.4v2M275.3 749.9H279.8M377.8 806.4v3.2M276.6 744.2H279.8M387.6 806.4v2M276.6 740.9H279.8M393.3 806.4v2M276.6 738.5H279.8M397.4 806.4v2M276.6 736.7H279.8M400.6 806.4v2M276.6 735.2H279.8M403.2 806.4v2M276.6 733.9H279.8M405.3 806.4v2M276.6 732.8H279.8M407.2 806.4v2M276.6 731.9H279.8M408.9 806.4v2" stroke="#111" stroke-width="1.1"/>
<path d="M318.9 731V806.4" stroke="#000" stroke-width="1"/>
<path d="M345.5 792.4H410.4" stroke="#000" stroke-width="1"/>
<path d="M327 821h1v1h-1zM303 822h1v1h-1zM344 822h1v1h-1zM349 823h1v1h-1zM330 824h1v1h-1zM319 825h1v1h-1zM336 825h1v1h-1zM327 826h2v1h-2zM335 826h1v1h-1zM338 826h1v1h-1zM343 826h1v1h-1zM360 826h1v1h-1zM327 827h1v1h-1zM342 827h1v1h-1zM315 828h1v1h-1zM322 829h1v1h-1zM326 829h1v1h-1zM324 830h1v1h-1zM330 830h1v1h-1zM334 830h1v1h-1zM339 830h1v1h-1zM344 830h1v1h-1zM307 831h1v1h-1zM335 831h1v1h-1zM337 831h1v1h-1zM341 831h1v1h-1zM317 832h1v1h-1zM320 832h1v1h-1zM323 832h2v1h-2zM326 832h5v1h-5zM333 832h1v1h-1zM344 832h1v1h-1zM302 833h1v1h-1zM307 833h1v1h-1zM311 833h1v1h-1zM316 833h1v1h-1zM325 833h2v1h-2zM328 833h7v1h-7zM293 834h1v1h-1zM301 834h1v1h-1zM304 834h1v1h-1zM306 834h1v1h-1zM309 834h1v1h-1zM312 834h1v1h-1zM317 834h1v1h-1zM321 834h2v1h-2zM324 834h2v1h-2zM328 834h1v1h-1zM330 834h2v1h-2zM338 834h1v1h-1zM345 834h1v1h-1zM303 835h1v1h-1zM306 835h1v1h-1zM310 835h2v1h-2zM316 835h3v1h-3zM320 835h2v1h-2zM325 835h7v1h-7zM333 835h3v1h-3zM340 835h1v1h-1zM347 835h1v1h-1zM308 836h1v1h-1zM310 836h1v1h-1zM313 836h2v1h-2zM318 836h1v1h-1zM320 836h9v1h-9zM330 836h1v1h-1zM332 836h4v1h-4zM337 836h1v1h-1zM340 836h1v1h-1zM346 836h2v1h-2zM306 837h1v1h-1zM310 837h7v1h-7zM319 837h6v1h-6zM326 837h1v1h-1zM330 837h4v1h-4zM336 837h2v1h-2zM339 837h1v1h-1zM341 837h1v1h-1zM343 837h1v1h-1zM349 837h1v1h-1zM298 838h1v1h-1zM300 838h2v1h-2zM303 838h1v1h-1zM306 838h1v1h-1zM309 838h4v1h-4zM314 838h4v1h-4zM319 838h11v1h-11zM331 838h1v1h-1zM333 838h4v1h-4zM339 838h3v1h-3zM344 838h1v1h-1zM346 838h2v1h-2zM282 839h1v1h-1zM288 839h1v1h-1zM290 839h1v1h-1zM298 839h4v1h-4zM303 839h4v1h-4zM312 839h1v1h-1zM314 839h2v1h-2zM317 839h9v1h-9zM327 839h1v1h-1zM329 839h7v1h-7zM338 839h3v1h-3zM342 839h1v1h-1zM344 839h1v1h-1zM287 840h1v1h-1zM292 840h1v1h-1zM297 840h6v1h-6zM304 840h2v1h-2zM307 840h1v1h-1zM311 840h3v1h-3zM315 840h7v1h-7zM324 840h2v1h-2zM327 840h14v1h-14zM342 840h1v1h-1zM284 841h1v1h-1zM286 841h3v1h-3zM294 841h2v1h-2zM297 841h6v1h-6zM304 841h3v1h-3zM308 841h5v1h-5zM314 841h3v1h-3zM318 841h1v1h-1zM322 841h15v1h-15zM341 841h1v1h-1zM344 841h1v1h-1zM352 841h1v1h-1zM281 842h1v1h-1zM288 842h2v1h-2zM293 842h1v1h-1zM295 842h1v1h-1zM298 842h3v1h-3zM303 842h10v1h-10zM314 842h21v1h-21zM337 842h4v1h-4zM342 842h2v1h-2zM287 843h1v1h-1zM290 843h1v1h-1zM293 843h2v1h-2zM297 843h4v1h-4zM302 843h4v1h-4zM307 843h10v1h-10zM318 843h5v1h-5zM324 843h10v1h-10zM335 843h1v1h-1zM337 843h3v1h-3zM341 843h4v1h-4zM347 843h2v1h-2zM280 844h1v1h-1zM282 844h1v1h-1zM285 844h16v1h-16zM302 844h5v1h-5zM308 844h1v1h-1zM310 844h5v1h-5zM316 844h1v1h-1zM318 844h22v1h-22zM341 844h3v1h-3zM345 844h1v1h-1zM354 844h1v1h-1zM284 845h2v1h-2zM287 845h2v1h-2zM292 845h10v1h-10zM303 845h5v1h-5zM309 845h1v1h-1zM311 845h25v1h-25zM337 845h3v1h-3zM341 845h4v1h-4zM347 845h1v1h-1zM349 845h1v1h-1zM282 846h2v1h-2zM285 846h2v1h-2zM288 846h44v1h-44zM333 846h12v1h-12zM347 846h4v1h-4zM357 846h1v1h-1zM280 847h7v1h-7zM289 847h2v1h-2zM292 847h36v1h-36zM329 847h10v1h-10zM340 847h1v1h-1zM342 847h1v1h-1zM345 847h1v1h-1zM349 847h2v1h-2zM280 848h4v1h-4zM285 848h1v1h-1zM287 848h3v1h-3zM291 848h5v1h-5zM297 848h8v1h-8zM306 848h4v1h-4zM311 848h25v1h-25zM337 848h7v1h-7zM345 848h2v1h-2zM348 848h1v1h-1zM354 848h1v1h-1zM280 849h7v1h-7zM288 849h16v1h-16zM305 849h21v1h-21zM327 849h12v1h-12zM340 849h1v1h-1zM342 849h5v1h-5zM349 849h1v1h-1zM280 850h8v1h-8zM289 850h11v1h-11zM301 850h12v1h-12zM314 850h9v1h-9zM324 850h8v1h-8zM333 850h12v1h-12zM346 850h3v1h-3zM352 850h1v1h-1zM280 851h1v1h-1zM283 851h1v1h-1zM285 851h4v1h-4zM290 851h37v1h-37zM328 851h8v1h-8zM337 851h4v1h-4zM342 851h4v1h-4zM347 851h2v1h-2zM350 851h3v1h-3zM355 851h1v1h-1zM282 852h55v1h-55zM338 852h6v1h-6zM345 852h2v1h-2zM352 852h1v1h-1zM399 852h1v1h-1zM280 853h7v1h-7zM288 853h24v1h-24zM313 853h27v1h-27zM341 853h1v1h-1zM343 853h2v1h-2zM347 853h2v1h-2zM350 853h2v1h-2zM280 854h54v1h-54zM335 854h6v1h-6zM342 854h4v1h-4zM350 854h1v1h-1zM280 855h15v1h-15zM296 855h43v1h-43zM340 855h4v1h-4zM345 855h1v1h-1zM349 855h2v1h-2zM280 856h43v1h-43zM324 856h6v1h-6zM331 856h19v1h-19zM280 857h6v1h-6zM287 857h54v1h-54zM342 857h4v1h-4zM348 857h4v1h-4zM354 857h1v1h-1zM280 858h60v1h-60zM342 858h4v1h-4zM347 858h2v1h-2zM280 859h2v1h-2zM283 859h41v1h-41zM325 859h19v1h-19zM347 859h2v1h-2zM350 859h1v1h-1zM353 859h2v1h-2zM280 860h3v1h-3zM285 860h40v1h-40zM326 860h12v1h-12zM339 860h7v1h-7zM347 860h3v1h-3zM351 860h1v1h-1zM354 860h1v1h-1zM280 861h44v1h-44zM325 861h16v1h-16zM342 861h2v1h-2zM345 861h3v1h-3zM350 861h4v1h-4zM280 862h1v1h-1zM282 862h61v1h-61zM344 862h4v1h-4zM352 862h2v1h-2zM361 862h1v1h-1zM398 862h1v1h-1zM280 863h4v1h-4zM285 863h50v1h-50zM336 863h9v1h-9zM346 863h5v1h-5zM356 863h1v1h-1zM280 864h55v1h-55zM336 864h2v1h-2zM339 864h7v1h-7zM347 864h2v1h-2zM350 864h1v1h-1zM353 864h1v1h-1zM355 864h1v1h-1zM357 864h1v1h-1zM280 865h36v1h-36zM317 865h28v1h-28zM346 865h2v1h-2zM356 865h1v1h-1zM280 866h68v1h-68zM349 866h1v1h-1zM353 866h1v1h-1zM280 867h66v1h-66zM347 867h5v1h-5zM356 867h1v1h-1zM280 868h54v1h-54zM335 868h17v1h-17zM280 869h66v1h-66zM348 869h1v1h-1zM350 869h2v1h-2zM353 869h1v1h-1zM280 870h67v1h-67zM349 870h2v1h-2zM354 870h1v1h-1zM357 870h1v1h-1zM280 871h55v1h-55zM336 871h10v1h-10zM347 871h2v1h-2zM352 871h1v1h-1zM354 871h1v1h-1zM280 872h67v1h-67zM348 872h4v1h-4zM356 872h1v1h-1zM280 873h62v1h-62zM343 873h1v1h-1zM345 873h2v1h-2zM348 873h4v1h-4zM354 873h1v1h-1zM281 874h64v1h-64zM346 874h1v1h-1zM348 874h2v1h-2zM353 874h1v1h-1zM280 875h70v1h-70zM351 875h1v1h-1zM354 875h1v1h-1zM356 875h1v1h-1zM280 876h62v1h-62zM343 876h2v1h-2zM348 876h2v1h-2zM280 877h64v1h-64zM345 877h1v1h-1zM347 877h1v1h-1zM350 877h2v1h-2zM355 877h1v1h-1zM360 877h1v1h-1zM382 877h1v1h-1zM281 878h60v1h-60zM342 878h1v1h-1zM344 878h4v1h-4zM280 879h57v1h-57zM338 879h2v1h-2zM341 879h3v1h-3zM345 879h1v1h-1zM347 879h2v1h-2zM351 879h1v1h-1zM280 880h45v1h-45zM326 880h10v1h-10zM337 880h2v1h-2zM340 880h8v1h-8zM350 880h1v1h-1zM353 880h1v1h-1zM356 880h1v1h-1zM280 881h56v1h-56zM338 881h1v1h-1zM340 881h2v1h-2zM343 881h1v1h-1zM345 881h2v1h-2zM281 882h3v1h-3zM285 882h53v1h-53zM340 882h3v1h-3zM344 882h2v1h-2zM347 882h1v1h-1zM350 882h1v1h-1zM280 883h1v1h-1zM282 883h57v1h-57zM340 883h3v1h-3zM348 883h4v1h-4zM353 883h1v1h-1zM356 883h1v1h-1zM280 884h54v1h-54zM335 884h2v1h-2zM338 884h1v1h-1zM340 884h2v1h-2zM344 884h1v1h-1zM346 884h1v1h-1zM356 884h1v1h-1zM280 885h10v1h-10zM291 885h39v1h-39zM331 885h1v1h-1zM333 885h1v1h-1zM335 885h1v1h-1zM338 885h1v1h-1zM340 885h1v1h-1zM343 885h2v1h-2zM280 886h53v1h-53zM334 886h5v1h-5zM342 886h1v1h-1zM347 886h1v1h-1zM280 887h1v1h-1zM282 887h4v1h-4zM287 887h30v1h-30zM318 887h8v1h-8zM327 887h3v1h-3zM331 887h3v1h-3zM335 887h3v1h-3zM339 887h2v1h-2zM280 888h42v1h-42zM323 888h9v1h-9zM333 888h4v1h-4zM340 888h2v1h-2zM343 888h2v1h-2zM280 889h36v1h-36zM317 889h6v1h-6zM325 889h3v1h-3zM329 889h7v1h-7zM339 889h2v1h-2zM342 889h2v1h-2zM280 890h6v1h-6zM288 890h21v1h-21zM310 890h12v1h-12zM323 890h1v1h-1zM325 890h5v1h-5zM334 890h1v1h-1zM339 890h1v1h-1zM348 890h1v1h-1zM280 891h1v1h-1zM282 891h1v1h-1zM284 891h2v1h-2zM287 891h31v1h-31zM319 891h1v1h-1zM321 891h1v1h-1zM325 891h2v1h-2zM328 891h1v1h-1zM330 891h1v1h-1zM332 891h1v1h-1zM334 891h1v1h-1zM342 891h1v1h-1zM346 891h1v1h-1zM353 891h1v1h-1z" fill="#000"/>
<rect x="279.8" y="816.8" width="130.6" height="75.4" fill="none" stroke="#000" stroke-width="1.5"/>
<path d="M275.3 892.2H279.8M279.8 892.2v3.2M276.6 886.5H279.8M289.6 892.2v2M276.6 883.2H279.8M295.4 892.2v2M276.6 880.9H279.8M299.5 892.2v2M276.6 879H279.8M302.6 892.2v2M276.6 877.5H279.8M305.2 892.2v2M276.6 876.3H279.8M307.4 892.2v2M276.6 875.2H279.8M309.3 892.2v2M276.6 874.2H279.8M311 892.2v2M275.3 873.4H279.8M312.4 892.2v3.2M276.6 867.7H279.8M322.3 892.2v2M276.6 864.4H279.8M328 892.2v2M276.6 862H279.8M332.1 892.2v2M276.6 860.2H279.8M335.3 892.2v2M276.6 858.7H279.8M337.9 892.2v2M276.6 857.4H279.8M340 892.2v2M276.6 856.3H279.8M341.9 892.2v2M276.6 855.4H279.8M343.6 892.2v2M275.3 854.5H279.8M345.1 892.2v3.2M276.6 848.8H279.8M354.9 892.2v2M276.6 845.5H279.8M360.7 892.2v2M276.6 843.2H279.8M364.8 892.2v2M276.6 841.3H279.8M367.9 892.2v2M276.6 839.8H279.8M370.5 892.2v2M276.6 838.6H279.8M372.7 892.2v2M276.6 837.5H279.8M374.6 892.2v2M276.6 836.5H279.8M376.3 892.2v2M275.3 835.6H279.8M377.8 892.2v3.2M276.6 830H279.8M387.6 892.2v2M276.6 826.7H279.8M393.3 892.2v2M276.6 824.3H279.8M397.4 892.2v2M276.6 822.5H279.8M400.6 892.2v2M276.6 821H279.8M403.2 892.2v2M276.6 819.7H279.8M405.3 892.2v2M276.6 818.6H279.8M407.2 892.2v2M276.6 817.7H279.8M408.9 892.2v2" stroke="#111" stroke-width="1.1"/>
<path d="M318.9 816.8V892.2" stroke="#000" stroke-width="1"/>
<path d="M343.7 878.8H410.4" stroke="#000" stroke-width="1"/>
<text x="50.8" y="630.4" font-size="15.4" text-anchor="start" fill="#000" transform="rotate(-90 50.8 630.4)">Isotype</text>
<text x="50.8" y="698.8" font-size="15.4" text-anchor="start" fill="#000" transform="rotate(-90 50.8 698.8)">CD25</text>
<text x="50.8" y="790" font-size="15.4" text-anchor="start" fill="#000" transform="rotate(-90 50.8 790)">CD69</text>
<text x="50.8" y="874.5" font-size="15.4" text-anchor="start" fill="#000" transform="rotate(-90 50.8 874.5)">CD137</text>
<rect x="229.4" y="568.5" width="4" height="42.5" fill="#000"/>
<rect x="210.1" y="587.6" width="42.5" height="4" fill="#000"/>
<text x="205.9" y="580" font-size="13.5" text-anchor="start" fill="#000">0.2</text>
<text x="239.8" y="580" font-size="13.5" text-anchor="start" fill="#000">0.5</text>
<text x="205.9" y="610" font-size="13.5" text-anchor="start" fill="#000">32</text>
<text x="237.8" y="610" font-size="13.5" text-anchor="start" fill="#000">67</text>
<rect x="229.4" y="664.1" width="4" height="42.2" fill="#000"/>
<rect x="210.1" y="683.4" width="42.5" height="4" fill="#000"/>
<text x="205.9" y="675.3" font-size="13.5" text-anchor="start" fill="#000">17</text>
<text x="239.8" y="675.3" font-size="13.5" text-anchor="start" fill="#000">45</text>
<text x="205.9" y="705.5" font-size="13.5" text-anchor="start" fill="#000">16</text>
<text x="237.8" y="705.5" font-size="13.5" text-anchor="start" fill="#000">22</text>
<rect x="229.4" y="749.4" width="4" height="42.4" fill="#000"/>
<rect x="210.1" y="768.5" width="42.5" height="4" fill="#000"/>
<text x="205.9" y="760.9" font-size="13.5" text-anchor="start" fill="#000">4.0</text>
<text x="239.8" y="760.9" font-size="13.5" text-anchor="start" fill="#000">2.4</text>
<text x="205.9" y="790.5" font-size="13.5" text-anchor="start" fill="#000">30</text>
<text x="237.8" y="790.5" font-size="13.5" text-anchor="start" fill="#000">63</text>
<rect x="229.4" y="834.2" width="4" height="42.6" fill="#000"/>
<rect x="210.1" y="853.7" width="42.5" height="4" fill="#000"/>
<text x="205.9" y="845.5" font-size="13.5" text-anchor="start" fill="#000">0.5</text>
<text x="239.8" y="845.5" font-size="13.5" text-anchor="start" fill="#000">0.5</text>
<text x="205.9" y="875.9" font-size="13.5" text-anchor="start" fill="#000">32</text>
<text x="237.8" y="875.9" font-size="13.5" text-anchor="start" fill="#000">67</text>
<rect x="442" y="568.3" width="4" height="42.6" fill="#000"/>
<rect x="422.7" y="587.6" width="42.5" height="4" fill="#000"/>
<text x="418.6" y="580" font-size="13.5" text-anchor="start" fill="#000">0.7</text>
<text x="452.4" y="580" font-size="13.5" text-anchor="start" fill="#000">0.3</text>
<text x="418.6" y="609.8" font-size="13.5" text-anchor="start" fill="#000">72</text>
<text x="450.4" y="609.8" font-size="13.5" text-anchor="start" fill="#000">27</text>
<rect x="442" y="664.1" width="4" height="42.2" fill="#000"/>
<rect x="422.7" y="683.4" width="42.5" height="4" fill="#000"/>
<text x="418.6" y="675.3" font-size="13.5" text-anchor="start" fill="#000">60</text>
<text x="452.4" y="675.3" font-size="13.5" text-anchor="start" fill="#000">27</text>
<text x="418.6" y="705.5" font-size="13.5" text-anchor="start" fill="#000">13</text>
<text x="450.4" y="705.5" font-size="13.5" text-anchor="start" fill="#000">0.1</text>
<rect x="442" y="749.4" width="4" height="42.4" fill="#000"/>
<rect x="422.7" y="768.5" width="42.5" height="4" fill="#000"/>
<text x="418.6" y="760.9" font-size="13.5" text-anchor="start" fill="#000">61</text>
<text x="452.4" y="760.9" font-size="13.5" text-anchor="start" fill="#000">23</text>
<text x="418.6" y="790.5" font-size="13.5" text-anchor="start" fill="#000">14</text>
<text x="450.4" y="790.5" font-size="13.5" text-anchor="start" fill="#000">1.7</text>
<rect x="442" y="834.2" width="4" height="42.6" fill="#000"/>
<rect x="422.7" y="853.7" width="42.5" height="4" fill="#000"/>
<text x="418.6" y="845.5" font-size="13.5" text-anchor="start" fill="#000">47</text>
<text x="452.4" y="845.5" font-size="13.5" text-anchor="start" fill="#000">25</text>
<text x="418.6" y="875.9" font-size="13.5" text-anchor="start" fill="#000">26</text>
<text x="450.4" y="875.9" font-size="13.5" text-anchor="start" fill="#000">2.0</text>
<path d="M72 910H396" stroke="#000" stroke-width="3.4"/>
<path d="M394.5 901.5L412.5 910.2L394.5 919.2Z" fill="#000"/>
<text x="181" y="933.6" font-size="16" text-anchor="start" fill="#000">MHC-multimer</text>
</svg>
</body></html>
